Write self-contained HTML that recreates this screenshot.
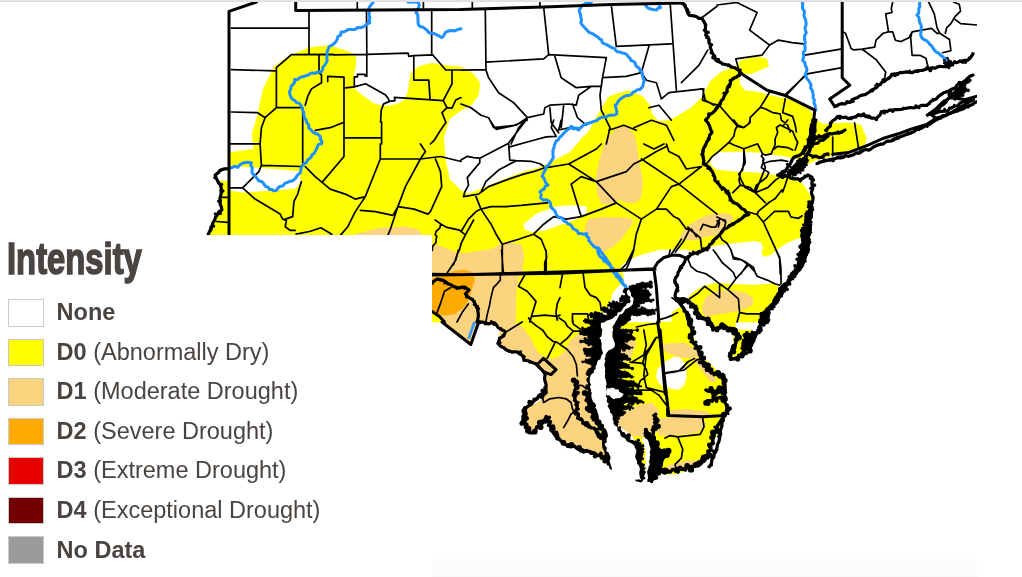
<!DOCTYPE html>
<html><head><meta charset="utf-8"><style>
html,body{margin:0;padding:0;background:#fff;width:1022px;height:577px;overflow:hidden;position:relative}
#map{position:absolute;left:0;top:0}
#topline{position:absolute;left:0;top:0;width:1022px;height:2px;background:linear-gradient(#e4e4e4 50%,#dcdcdc 50%)}
#panel{position:absolute;left:0;top:235px;width:432px;height:342px;background:#fff}
#bot{position:absolute;left:432px;top:559px;width:545px;height:18px;background:linear-gradient(#fcfcfc 88%,#f9f9f9 88%)}
.sw{position:absolute;left:8px;width:34px;height:25.5px;border:1px solid #c9c9c9}
.lt{position:absolute;left:56.6px;font-family:"Liberation Sans",sans-serif;font-size:23.5px;line-height:30px;color:#4a4441;white-space:nowrap;transform-origin:0 0;transform:scaleX(1.0)}
.lt b{font-weight:bold}
.lt span{font-weight:normal}
#title{position:absolute;left:7.4px;top:234.3px;font-family:"Liberation Sans",sans-serif;font-weight:bold;font-size:44px;line-height:50px;color:#4a4542;transform-origin:0 0;transform:scaleX(0.745);white-space:nowrap;-webkit-text-stroke:1.6px #4a4542}
</style></head><body>
<svg id="map" width="1022" height="577" viewBox="0 0 1022 577">
<defs><clipPath id="c"><rect x="0" y="2" width="977" height="575"/></clipPath></defs>
<g clip-path="url(#c)">
<path d="M560,322 L688,322 L688,394 L560,394 Z M613.7,330 L691.4,330 L696.4,345 L701.4,355 L711.4,365.1 L718.9,372.6 L723.9,375.1 L725.2,392.6 L726.5,412.7 L721.4,425.2 L716.4,435.2 L711.4,447.7 L703.9,457.7 L696.4,465.3 L686.4,470.3 L676.4,474 L641.3,474 L638.8,460.3 L636.3,447.7 L633.8,437.7 L626.3,430.2 L618.7,425.2 L613.7,412.7 L608.7,405.1 L611.2,392.6 L603.7,382.6 L606.2,367.6 L608.7,355 L616.2,342.5 Z M731.5,330 L752,330 L752,335 L744,350 L734,357.6 L736.5,345 Z M703.3,286.3 L715.8,283.2 L734.6,284.4 L753.4,285.1 L772.2,283.8 L778.5,286.3 L777.2,293.8 L772.2,302.6 L765.9,310.1 L759.7,313.9 L759.7,322 L707.1,322 L703.3,317.6 L697,312.6 L689.5,302.6 L688.3,297.6 L693.3,292.6 L700.8,287.6 Z M762.2,250 L773.4,250 L772.2,253.8 L765.9,256.3 L762.2,255 Z M672,305.1 L677,305.1 L682,307.6 L687,312.6 L690.8,322 L672,322 Z M672,316 L687,316 L690.8,323.5 L692,334.8 L693.3,343.6 L698.3,348.6 L700.8,356.1 L702.1,361.1 L707.1,366.1 L712.1,372.4 L719.6,376.1 L722.1,374.9 L723.4,381.1 L724.6,388 L672,388 Z M702.1,316 L734.6,316 L735.9,329.8 L728.4,328.5 L719.6,327.3 L713.3,328.5 L709.6,322.3 Z M734.6,336 L747.1,334.8 L747.1,347.3 L739.6,353.6 L733.4,356.1 L732.1,351.1 Z M229.5,152.7 L253.9,149 L252,133.9 L257.6,115.2 L263.2,88.9 L274.5,66.3 L291.4,55 L310.2,47.5 L329,45.6 L347.8,51.3 L355.5,56.3 L356.2,62.5 L353.7,75 L353,87.6 L361.8,95.1 L374.3,103.9 L385.6,106.4 L398.1,103.9 L404.4,100.1 L408.2,91.3 L409.4,81.3 L411.3,72.5 L419.4,66.3 L432,63.2 L440.7,65 L461,66.9 L473.5,73.9 L479.8,82.7 L478.5,95.2 L471,105.2 L461,110.2 L449.3,118.9 L443.6,137.7 L445.5,160.3 L449.3,179 L460.5,190.3 L468.1,194.1 L486.9,186.6 L505.6,179 L524.4,171.5 L539.5,167.8 L554.5,160.3 L569.5,152.7 L576.2,145 L583.7,136.3 L589,131.3 L597.6,115.2 L608.9,96.4 L627.6,90.7 L642.7,96.4 L650.2,105.8 L652,114 L658,121 L665,121 L672.7,118.9 L691.5,107.6 L702.8,96.4 L710.3,81.3 L721.6,71.9 L736.6,66.3 L740.4,60.7 L755.4,56.9 L766.7,58.8 L768.6,66.3 L755.4,71.9 L744.1,75.7 L740.4,81.3 L744.1,88.9 L759.2,92.6 L774.2,96.4 L793,100.1 L808,107.6 L815.5,118.9 L823.1,124.6 L845.6,122.7 L860.6,124.6 L866.3,137.7 L864,147.9 L848.3,152.6 L832.7,155.8 L815.5,160.3 L800.5,167.8 L793,173.4 L792.2,177.6 L798.4,180.1 L804.7,186.4 L809.7,195.1 L812.2,202 L810,238 L797.2,238.3 L794.7,239.6 L785.9,243.3 L777.1,249.6 L772.1,253.4 L764.6,256.5 L762.7,254.6 L763.3,247.1 L760.8,242.1 L754.6,240.8 L742,242.1 L729.5,243.3 L717,245.1 L711.7,246.3 L704.2,248.8 L699.2,250.1 L689.2,250.7 L670.4,250.1 L657.9,251.4 L645.4,253.9 L636.6,257.6 L626.6,261.4 L621.6,265.1 L623.9,275 L623.9,281.3 L617.6,287.6 L612.6,293.8 L611.4,300.1 L609.5,305.1 L596,322 L560,322 L560,360 L540,357 L522,345 L512,330 L505,322 L430,322 L430,577 L205,577 L207,236 L208.3,234.7 L213.3,223.1 L216.6,214.8 L221.6,209.8 L219.9,198.2 L221.6,188.2 L217.5,181 L229.5,181 Z" fill="#ffff00" stroke="#ffff00" stroke-width="0.6" stroke-linejoin="round"/>
<path d="M621.4,266.3 L627.6,261.3 L637.7,256.3 L650.2,252.5 L660.2,250 L688,250 L688,302.6 L680.2,306.4 L672.7,311.4 L664,315.1 L658.9,317.6 L657.7,322 L612.6,322 L609.5,305.1 L611.4,300.1 L612.6,293.8 L617.6,287.6 L623.9,281.3 L623.9,275 Z M657.7,369.6 L664,362.1 L672.7,358.3 L680.2,359.6 L685.2,365.8 L686.5,375.9 L684,384.6 L679,389.6 L670.2,388.4 L660.2,384.6 L656.4,377.1 Z M672,357.3 L679.5,357.3 L684.5,363.6 L683.3,368.6 L678.3,372.4 L672,373 Z M229.4,165.9 L253.9,167.8 L280.2,169.7 L299,171.5 L300.8,182.8 L295.2,188.4 L272.6,190.3 L242.6,192.2 L229.4,190.3 Z M523.6,224.2 L536.2,214.1 L556.2,206.6 L571.2,205.4 L586.2,206.6 L586.2,212.9 L576.2,219.2 L561.2,224.2 L543.7,230.4 L531.1,231.7 L524.9,229.2 Z M710.3,160.3 L717,152.5 L742,151.9 L760.8,153.2 L773.4,155 L785.9,156.9 L794.7,158.8 L804.7,161.3 L800,168 L787.1,176.3 L779.6,175.1 L773.4,174.5 L767.1,173.2 L754.6,172 L735.8,171.3 L717,169.5 L712,166 Z M740,75.7 L752,74 L763,78 L765,86 L758,91 L745,90 L740,84 Z" fill="#ffffff" stroke="#ffffff" stroke-width="0.6" stroke-linejoin="round"/>
<path d="M432,250 L448.3,250 L463.3,253.8 L475.8,255 L485.9,250 L522.2,250 L523.4,260 L521.5,268.8 L518.4,277.6 L517.2,285.1 L515.9,293.8 L515.9,306.4 L515.3,322 L444.5,322 L439.5,316.4 L432,311.4 Z M479.6,322 L478.3,323.3 L470.8,344.5 L442,322 Z M479.6,322 L514.7,322 L522.2,327 L529.7,337 L534.7,347 L539.7,354.6 L547.2,358.3 L554.7,359.6 L560,357.1 L560,394 L544.7,394 L546,384.6 L544.7,378.4 L544.7,372.1 L542.2,369.6 L538.5,367.1 L536,363.3 L529.7,362.1 L524.7,359.6 L522.2,354.6 L517.2,352.1 L509.7,350.8 L503.4,348.3 L498.4,343.3 L499.6,338.3 L503.4,335.8 L504.6,332 L498.4,327 L494.6,322.6 L488.4,323.3 Z M560,354.6 L566.3,353.3 L567.5,347 L570,340.8 L575,337 L581.3,335.8 L585,340.8 L588.8,353.3 L591.3,372.1 L591.3,394 L560,394 Z M615.1,330.8 L625.1,332 L635.1,337 L635.1,347 L630.1,359.6 L622.6,362.1 L615.1,359.6 Z M662.7,344.5 L672.7,343.3 L685.2,345.8 L688,347 L688,353.3 L679,352.1 L666.5,350.8 L664,349.6 Z M500,330 L520.3,330.3 L526.6,338.5 L532.6,346.5 L538.8,353.5 L543.8,357.3 L551.1,359.8 L556.1,358.8 L562.1,353.5 L567.1,348.5 L569.4,343.5 L573.4,338.5 L579.4,333.3 L581.4,331.3 L591.2,340 L596.2,355 L591.2,367.6 L588.7,380.1 L586.2,392.6 L588.7,405.1 L596.2,417.7 L601.2,425.2 L606.2,435.2 L603.7,447.7 L608.7,455.2 L611.2,467.8 L606.2,462.8 L598.7,457.7 L588.7,452.7 L578.7,447.7 L568.6,442.7 L558.6,437.7 L551.1,430.2 L546.1,420.2 L543.6,425.2 L533.6,432.7 L526.1,430.2 L523.6,417.7 L526.1,410.2 L533.6,405.1 L541.1,400.1 L543.6,392.6 L546.1,380.1 L553.6,370.1 L543.6,360.1 L538.6,362.6 L526.1,357.6 L511,350 L498.5,340 Z M613.7,412.7 L631.3,407.7 L651.3,402.6 L658.8,410.2 L656.3,425.2 L651.3,435.2 L641.3,437.7 L628.8,430.2 L618.7,422.7 Z M656.3,425.2 L671.3,417.7 L696.4,412.7 L703.9,415.2 L703.9,425.2 L696.4,432.7 L676.4,435.2 L658.8,435.2 Z M663.8,345 L683.9,342.5 L696.4,350 L693.9,357.6 L681.4,357.6 L666.3,352.5 Z M693.9,357.6 L708.9,367.6 L716.4,380.1 L711.4,382.6 L701.4,370.1 Z M615,415.5 L625,413 L631.3,408 L656.4,408 L657.6,415.5 L655.1,423 L650.1,430.5 L641.3,433 L635.1,436.8 L628.8,433 L620,426.8 Z M670.1,410.5 L687.7,409.3 L706.5,411.8 L710.2,414.3 L700.2,415.5 L670.1,414.3 Z M657.6,418 L675.1,419.3 L700.2,420.5 L706.5,423 L704,429.3 L687.7,428 L668.9,429.3 L655.1,431.8 Z M658.9,470.6 L668.9,465.6 L677.7,461.9 L687.7,460.6 L697.7,460.6 L698.9,464.4 L687.7,466.9 L675.1,469.4 L665.1,471.9 Z M600,424.3 L605,424.3 L607.5,439.3 L607.5,458.1 L600,460.6 Z M705.8,297.6 L715.8,291.3 L728.4,290.1 L744.6,292.6 L753.4,298.8 L752.2,305.1 L742.1,310.1 L728.4,312.6 L713.3,315.1 L704.6,316.4 L702.1,308.9 L703.3,302.6 Z M672,343.6 L684.5,347.3 L697,351.1 L698.3,356.1 L684.5,356.1 L672,353.6 Z M694.5,357.3 L700.8,357.3 L707.1,366.1 L709.6,372.4 L704.6,371.1 L697,363.6 Z M605.1,141.5 L616.4,128.3 L627.6,126.4 L635.2,137.7 L638.9,160.3 L642.7,182.8 L640.8,197.8 L636,202.5 L626.6,202.5 L620.3,200 L617.8,200 L614,203.8 L601.5,203.8 L597.6,194.1 L595.7,179 L599.5,160.3 Z M584.4,233.5 L586.3,224.1 L589,218.8 L601.5,217.5 L620.3,217.5 L631.6,218.8 L632.8,222.5 L626.6,231.3 L620.3,240.1 L611.5,247.6 L604,251.4 L597.8,250.1 L590.1,242.9 Z M679.2,238.8 L684.2,230.1 L689.2,225 L699.2,218.8 L709.2,215 L717,213.8 L724.5,213.3 L730.8,214.5 L733.3,218.3 L730.8,222 L727,224.5 L723.3,229.6 L719.5,232.1 L717,234.6 L709.2,236.3 L701.7,237.6 L695.5,240.1 L686.7,240.1 Z M355.3,234.2 L380.3,227.9 L405.4,226.7 L417.9,229.2 L422.9,235.4 L432,235.4 L432.1,245 L439.1,245.8 L447,249 L454.8,252.1 L462.6,253.7 L476,251.7 L491.1,249.2 L501.1,244.2 L511.1,242.9 L521.1,244.2 L523.6,254.2 L522.4,269.2 L522,275 L432,275 L355,275 Z" fill="#fcd37f" stroke="#fcd37f" stroke-width="0.6" stroke-linejoin="round"/>
<path d="M432,278.8 L444.5,275 L454.5,271.3 L464.6,270 L472.1,272.5 L474.6,280.1 L472.1,287.6 L468.3,300.1 L463.3,307.6 L454.5,313.9 L444.5,315.1 L437,313.9 L432,312.6 Z" fill="#ffaa00" stroke="#ffaa00" stroke-width="0.6" stroke-linejoin="round"/>
<path d="M473.3,322 L475.8,322 L469.6,338.9 L467.7,338.3 Z" fill="#3399ff" stroke="#3399ff" stroke-width="0.6" stroke-linejoin="round"/>
<path d="M950,95.2 L957.5,87.7 L965,85.2 L967.5,90.2 L962.5,95.2 L955,98.9 Z M787.7,172.6 L791.4,167.6 L797.7,161.3 L805.2,156.3 L809,160.1 L805.2,167.6 L800.2,172.6 L795.2,175.1 L790.2,175.1 Z M812.2,202 L810.9,214.5 L809.7,227 L808.4,239.6 L807.2,252.1 L804.7,260.9 L799.7,269.6 L795.9,274 L792.8,274 L795.3,268.4 L798.4,259.6 L800.3,252.1 L802.2,242.1 L800.9,235.8 L803.4,228.3 L805.3,222 L807.2,214.5 L809.1,207 L809.9,202 Z M796.6,268.8 L794.1,276.3 L787.9,286.3 L782.8,293.8 L777.8,302.6 L770.3,310.7 L762.8,322 L759.7,322 L762.2,313.9 L769.7,307.6 L774.7,300.1 L778.5,293.8 L782.2,287.6 L787.2,282.6 L792.2,275 Z M744.6,334.8 L752.2,332.3 L757.2,333.5 L759.7,327.3 L753.4,338.5 L749.7,347.3 L743.4,353.6 L737.1,357.3 L742.1,351.1 Z M944,58 L948,57 L950,62 L949,68 L945,68 Z M626.9,291 L628.1,293.3 L629.2,295.5 L630.2,297.8 L630.8,300.3 L629.7,302.3 L627.9,304.1 L626.1,305.9 L624.3,307.7 L622.6,309.4 L620.6,311.1 L618.6,312.7 L616.8,314.4 L615,316.2 L613.1,317.9 L610.9,319 L608.6,320.1 L606.3,321.2 L603.9,322 L601.5,322.8 L600.4,325.1 L600.8,327.3 L602.3,329.4 L602.2,331.7 L601.5,334.1 L600.8,336.6 L600.6,339 L601.1,341.5 L601.5,344 L602,346.5 L602.4,349 L602.8,351.5 L602.5,353.9 L601.3,356.2 L600.2,358.4 L599,360.7 L598,363 L597.1,365.4 L596.2,367.7 L595,370 L593.6,372.1 L592.2,374.2 L591,376.3 L590.6,378.9 L590.5,381.4 L590.5,383.9 L590.5,386.5 L590.5,389 L589.1,389.9 L589.8,386.8 L589.3,384.3 L587.4,381.9 L587.5,379.2 L588.8,376.5 L586.7,374 L587.3,371.3 L588.3,368.8 L592.6,367.3 L590.8,364.8 L582.9,361.9 L586,359.7 L592.7,357.7 L584.3,354.2 L584,351.7 L584.6,349.5 L595,348.3 L591.5,345.4 L581.2,341.5 L585.4,339.4 L592,337.7 L581.3,333.3 L581,330.6 L582.7,328.3 L594.5,327.9 L591.2,325.1 L583.3,320.9 L588.4,319.7 L596.3,319.7 L589,315 L591.2,313.5 L595.5,313 L607.2,315.6 L606.9,313.2 L601.4,309.2 L606.9,309.2 L614.3,309.4 L608.3,305.5 L609.7,303.2 L613.4,302.2 L623.2,302.9 L623.4,301.2 L619.1,298.4 L622.5,296.5 L626,294.8 L623.7,291.6 L625.2,289.3 Z M636.4,330 L625.5,332.9 L633,335.9 L634.4,338.9 L621.4,341.4 L626.8,344.4 L631.3,347.5 L621.3,349.4 L616,351.3 L626.7,355.9 L630.1,359.6 L619.3,360.2 L628.4,365 L631.6,368.6 L615.7,367.9 L624.5,372.6 L634.4,377 L620.9,376.4 L615.5,377.9 L635.7,382.6 L640.6,386.3 L624.7,387.3 L637.4,391.6 L642.8,394.4 L621.8,394.6 L632.9,398.5 L643.2,402.4 L624.1,402.8 L616.9,404.6 L631.1,406.6 L632.5,408 L621.1,410.8 L625.9,411.8 L625.4,413.6 L617.1,418.3 L618.6,418.8 L618.4,419.2 L616.8,424.8 L618,428.5 L619.4,428.3 L621.1,429.9 L623.2,434.1 L625.7,434.3 L628.1,435.9 L629.5,440.7 L632.3,441.1 L634.5,442.2 L635.2,446.6 L635.9,449.9 L637.4,451.2 L638,453.8 L637.1,457.8 L637.8,460.1 L639,462.7 L639.6,466 L640.4,468.6 L641,471.3 L640,474.6 L640.3,477.4 L642.7,480 L641,480 L639.8,477.5 L639,474.9 L639,472.1 L639,469.3 L639,466.5 L637.8,464.1 L636.4,461.7 L636,459 L636,456.2 L636,453.4 L635.6,450.7 L634.7,448.1 L633.5,445.7 L631.2,444.1 L628.8,442.6 L626.7,440.7 L624.8,438.8 L622.8,436.8 L620.8,434.8 L619.2,432.6 L617.9,430.2 L616.5,427.7 L615.2,425.3 L614.1,422.7 L613.2,420.1 L612.2,417.5 L611.1,414.9 L610.1,412.3 L609.1,409.7 L608.3,407 L607.9,404.3 L607.5,401.5 L607.1,398.8 L606.8,396 L606.5,393.2 L606.2,390.4 L605.9,387.7 L605.8,384.9 L605.7,382.1 L605.6,379.3 L605.4,376.5 L605.3,373.7 L605.1,371 L604.9,368.2 L604.7,365.4 L604.4,362.6 L604.7,359.9 L605.7,357.3 L606.7,354.7 L608.1,352.3 L610,350.4 L612,348.4 L614,346.4 L614,343.8 L613.5,341.1 L613,338.4 L612.9,335.6 L612.9,332.8 L612.9,330 Z M628.5,290 L630,287 L640,284 L650,283.5 L651,286.5 L641,289 L645,290 L649.5,292.3 L651.8,294.7 L647.9,297.8 L652.6,300.2 L651.8,302.5 L646.4,301 L640.1,301.7 L638.5,305.7 L633.8,308 L637,309.6 L644.8,308.8 L655,310.4 L654.2,313.5 L644.8,314.3 L637,315 L631.5,315 L629.6,319.4 L622.5,323.8 L619,330 L617,334 L612.9,331 L613,327 L615.5,322 L618.5,317 L623,312 L627.5,308 L634,302 L633,299 Z M633,442 L638,441 L642,446 L643,455 L641,462 L636,462 L633,455 Z M637,467 L643,466 L646,472 L645,479 L639,480 L637,474 Z M645.8,430 L651.6,438.8 L654.6,444.7 L659,450.5 L666.3,452 L663.4,459.4 L659,466.7 L654.6,474 L651.6,481.4 L648,481 L648.5,472 L649.5,464 L651,457 L651,450 L650,444 L647,439 L644,436 Z" fill="#000000" stroke="#000000" stroke-width="0.6" stroke-linejoin="round"/>
<path d="M357.3,2 L357.3,8.8 M423.4,2 L423.4,8 M231.3,28.1 L309,28.1 M309,10.5 L309,53.9 M291.4,54.6 L276.4,67.6 L276.4,107.7 M231.3,69.6 L275.1,70.9 M319,54.6 L319,72.6 L321.5,75.1 L321.5,82.7 L311.5,88.9 L307.7,96.4 L305.2,105.2 M327.7,81.4 L327.7,76.4 L344,77.2 L344,144 M276.4,107.7 L301.4,107.7 M231.3,112 L257.6,112.7 L265.1,117.7 L261.4,127.7 L260.1,144 M276.4,107.7 L265.1,117.7 M302.7,107.7 L302.7,144 M315.2,130.3 L330.2,127.7 L342.8,122.7 M344,137.8 L380.3,137.8 M381.6,122.2 L381.6,144 M431.7,10 L431.7,54.6 M446,122.2 L440.5,130.3 L434.2,140.3 L430.4,144 M291.4,54.6 L333.3,54.4 M333,54.8 L366.8,54.4 L408.1,53.1 L408.8,56.3 L413.8,55.6 L432.6,54.8 M432.6,54.8 L445.7,70 L461,70 M366.8,50 L366.8,76.3 L364.9,75.7 L364.9,74.4 L357.4,74.4 L357.4,76.9 L354.3,76.9 L354.3,86.9 M345.5,87.8 L354.3,86.9 L365.6,83.8 L385.6,95.1 L388.1,98.2 L389.4,101.4 L383.7,103.9 L381.2,110.1 L380.6,122 M389.4,101.4 L395,100.7 L394.4,97.3 L443.2,100.7 M413.8,55.6 L413.8,80.1 L428.8,80.1 L430.1,100.1 M452,70.7 L452,83.8 L443.2,100.7 L447,107.6 L442,112.6 L445.7,122 M447,107.6 L452,108.2 L455.7,100.1 L461,97.6 M472.3,2.5 L472.3,9 M701.5,18 L717,6.3 M539.9,2 L539.9,7.5 M485.3,9.5 L486,69.6 M461,70.1 L486,69.6 M486,62.1 L543.7,58.9 L548.7,54.6 L606.3,57.6 M543.7,7.5 L548.7,54.6 M611.3,5 L616.3,46.3 L671.4,43.8 M670.2,3.8 L676.4,90.2 M606.3,57.6 L602.5,77.7 L600,95.2 L601.3,110.2 L610,127.7 M554.9,56.4 L561.2,77.7 L576.2,87.7 L591.3,86.4 L600,86.4 M602.5,77.7 L626.3,76.4 L641.4,72.6 L648.9,46.3 M486,70.1 L488.6,77.7 L498.6,92.7 L513.6,102.7 L527.4,117.7 M461,104 L471,107.7 L481,115.2 L488.6,117.7 L493.6,127.7 L516.1,125.2 L527.4,117.7 L543.7,114 L544.9,107.7 L549.9,105.2 L568.7,104 L576.2,105.2 M576.2,105.2 L578.7,95.2 L591.3,86.4 M549.9,107.7 L551.2,122.7 L558.7,132.8 M563.7,105.2 L561.2,127.7 M572.5,104 L577.5,117.7 L586.2,125.2 M527.4,117.7 L518.6,127.7 L511.1,144 M641.4,72.6 L646.4,80.2 L656.4,82.7 L661.4,98.9 L668.9,92.7 L702.7,88.9 M702.7,88.9 L705.2,100.2 L714,105.2 M681.4,82.7 L699,65.1 L707.7,50.1 M608.8,130.3 L623.8,125.2 L636.3,130.3 M610,127.7 L606.3,144 M633.8,127.7 L651.4,120.2 L666.4,125.2 L673.9,140.3 M648.9,107.7 L658.9,105.2 L671.4,120.2 M717,5 L737,2.5 L757.1,12.5 L749.6,30.1 L769.6,45.1 L778.4,40.1 L792.1,42.6 L803.4,43.8 M769.6,45.1 L762.1,55.1 L735.8,58.9 L739.5,72.6 M804.7,55.1 L842.2,48.8 M807.2,73.9 L842.2,67.6 M804.7,76.4 L784.6,95.2 M260.1,144 L261.4,165.3 L301.4,166.5 M230,187.8 L242.6,187.8 L258.9,171.6 L261.4,165.3 M242.6,187.8 L255.1,199.1 L267.6,206.6 L280.1,214.1 L282.7,219.1 L286.4,220.4 L285.2,226.7 L290.2,230.4 L295.2,230.4 M302.7,144 L302.7,162.8 M301.4,181.6 L297.7,194.1 L293.9,201.6 L292.7,216.6 L285.2,219.1 M305.2,166.5 L315.2,176.6 L322.7,182.8 L330.2,189.1 L345.3,194.1 L355.3,199.1 L365.3,196.6 M322.7,181.6 L344,156.5 L344,144 M365.3,196.6 L355.3,211.6 L347.8,226.7 L340.3,235.4 M365.3,196.6 L380.3,159 L380.3,144 M380.3,159 L420.4,159 L440.5,156.5 L461,161.5 M420.4,159 L405.4,186.6 L397.9,206.6 L390.4,229.2 L387.9,235.4 M360.3,210.4 L375.3,211.6 L392.9,215.4 L397.9,206.6 M420.4,144 L425.4,151.5 L420.4,159 M435.5,159 L440.5,171.6 L441.7,186.6 L430.4,211.6 L427.9,214.1 L414.2,209.1 L397.9,206.6 M435.2,220 L440.7,223.9 L447,227.4 L459.5,230.2 L465.4,234.9 L473.6,220 M440.7,223.9 L439.9,227.8 L436,231.7 L435.2,234.9 L436.8,236.4 L436,239.6 L436,242.7 L432.9,245.8 L432.1,250.5 M465.4,234.9 L461.1,243.5 L459.5,249.7 L457.1,254.4 L454,263.8 L453.2,265 M463.5,196.6 L478.5,194.1 L488.6,186.6 L508.6,179.1 L523.6,174.1 L533.6,171.6 L544.9,167.8 L568.7,164 L596.3,149 L601.3,144 M476,196.6 L481,209.1 L486,216.6 L491.1,224.2 L496.1,234.2 L502.3,244.2 L502.3,274.3 M481,209.1 L491.1,206.6 L506.1,206.6 L521.1,205.4 L533.6,204.1 L547.4,202.9 M461,231.7 L468.5,219.1 L476,211.6 L481,209.1 M502.3,244.2 L518.6,239.2 L533.6,234.2 L541.2,239.2 L546.2,251.7 L546.2,274.3 M533.6,234.2 L543.7,224.2 L553.7,216.6 L566.2,219.1 L581.2,216.6 L601.3,209.1 L616.3,202.9 L641.4,219.1 L636.3,234.2 L633.8,249.2 L626.3,264.2 L621.3,269.2 M571.2,184.1 L581.2,216.6 M571.2,184.1 L581.2,176.6 L596.3,181.6 L616.3,202.9 M568.7,164 L596.3,181.6 M596.3,181.6 L611.3,176.6 L626.3,171.6 L633.8,164 L643.9,159 L656.4,151.5 L666.4,146.5 M641.4,159 L678.9,184.1 L717,214.1 M641.4,219.1 L656.4,209.1 L671.4,186.6 L678.9,184.1 M656.4,209.1 L666.4,209.1 L673.9,216.6 L678.9,219.1 L686.4,229.2 L691.5,229.2 L696.5,236.7 M678.9,184.1 L701.5,166.5 M643.9,144 L653.9,149 L663.9,144 M666.4,144 L668.9,151.5 L678.9,156.5 L686.4,169 L701.5,166.5 M681.4,239.2 L676.4,246.7 L671.4,254.2 M461,160.1 L467.3,156.3 L473.5,157.6 L479.8,158.2 L508.6,143.2 L526.1,120 M479.8,158.2 L479.8,162.6 L473.5,170.1 L467.3,177.6 L468.5,185.1 L464.8,192 L463.5,196.4 M508.6,143.2 L509.8,160.1 L516.1,160.7 L531.1,161.3 L539.9,163.8 L543.7,166.3 M509.8,146.9 L529.9,141.3 L546.2,136.9 L556.2,136.3 M516.1,160.7 L498.6,170.1 L486,181.4 L481,192 M556.2,136.3 L551.2,127.5 L553.7,120 M558.7,130 L561.2,120 M558.7,130 L570,127.5 M489.8,120 L496.1,129.4 L513.6,125.6 L527.4,120 M720,106.3 L737.6,126.4 L743.8,127.6 L750.1,122.6 L750.1,117.6 L760.1,107.6 L770.1,91.3 M761.4,107.6 L765.1,108.8 L772.6,112.6 L780.2,113.9 L781.4,120.1 L787.7,125.1 L790.2,132 M785.2,98.8 L782.7,112.6 L792.7,116.4 L795.2,125.1 L796.4,132 M785.2,96.3 L804,76.3 L807.7,73.8 L828,70 M700,88.8 L703.8,88.8 L702.5,100.1 L712.5,103.8 L718.8,105.1 M733.8,120 L737.6,125 L743.8,127.5 L748.8,123.8 L750.1,120 M737.6,125 L735.1,130 L733.8,136.3 L728.8,142.5 L718.8,151.3 L712.5,156.3 L707.5,162.6 L703.8,165.1 M728.8,142.5 L733.8,145 L743.8,148.8 L757.6,143.8 L762.6,153.8 L765.1,155.1 L771.4,153.8 L772.6,150.1 L777.7,146.3 L787.7,147.6 L792.7,150.1 M743.8,148.8 L743.8,161.3 L742.6,170.1 L738.8,173.9 L741.3,180.1 L745.1,187.6 L753.9,192 M772.6,150.1 L775.1,145 L775.1,138.8 L777.7,132.5 L776.4,127.5 L780.2,125 L782.7,126.3 L787.7,120 M782.7,126.3 L792.7,131.3 L795.2,137.5 L797.7,142.5 L795.2,150.1 M762.6,163.8 L770.1,161.3 L781.4,160.1 L787.7,161.3 M762.6,163.8 L761.4,167.6 L765.1,170.1 L768.9,172.6 L766.4,177.6 L756.4,185.1 L753.9,192 M762.6,153.8 L761.4,156.3 L763.9,158.8 L762.6,163.8 M787.7,177.6 L785.2,185.1 L782.7,192 M748.3,212 L757.1,214.5 L758.3,211.4 L769.6,202 M757.1,214.5 L763.3,222 L769.6,235.8 L775.9,249.6 L779.6,258.4 L780.2,274 M763.3,222 L774.6,211.4 L788.4,211.4 L790.9,217 L798.4,218.3 L802.2,215.8 M719.5,234.6 L722,239.6 L727,243.3 L730.8,249.6 L733.3,257.1 L739.5,259 L745.8,262.1 L753.3,267.1 L755.8,274 M747.1,264.6 L740.8,274 M717,217 L722,219.5 L725.8,222 L724.5,227 L720.8,232.1 M717,220.8 L719.5,222 L718.3,227 M854.6,122.9 L858.5,147.9 M832.7,137 L832.7,155.8 M458.3,250 L455.8,260 L447,273.2 M501.5,250 L503.4,273.2 M546,250 L546.6,257.5 L544.7,262.5 L544.7,272.5 M500.3,275 L500.3,280.1 L497.1,283.8 L493.4,287.6 L490.9,297.6 L489.6,305.1 L487.1,315.1 L485.9,322 M524.7,275 L519.7,283.8 L518.4,286.3 L527.2,291.3 L536,301.4 L533.4,310.1 L529.7,322 M532.2,316.4 L544.7,315.1 L557.2,316.4 L560,315.1 M560,297.6 L557.2,303.9 L556,312.6 L557.2,320.1 M444.5,291.3 L440.8,302.6 L437,312.6 M444.5,291.3 L450.8,287.6 M468.3,303.9 L462.1,312.6 L457,322 M507.1,331.4 L522.2,322 M554.7,343.3 L547.2,358.3 M562.5,273.8 L560,287.6 M583.2,273.8 L585,287.6 L590.1,295.1 L596.3,297.6 L600.1,302.6 L601.3,310.1 M633.9,250 L631.4,257.5 L627.6,266.3 L625.1,270.7 M670.2,250 L669,255 M572.5,313.9 L587.6,313.9 L588.8,322 M572.5,313.9 L572.5,322 M657.7,320.1 L666.5,317.6 L672.7,315.1 L677.7,312.6 M630.1,362.1 L642.7,363.3 L646.4,369.6 L647.7,374.6 L640.2,380.9 L637.7,387.1 L640.2,394 M642.7,363.3 L645.2,353.3 L650.2,347 L655.2,338.3 L658.9,337 M636.4,327 L647.7,324.5 L657.7,323.3 M665.2,373.4 L679,370.8 L684,365.8 L688,362.1 M643.8,330 L646.3,345 L643.8,355 L631.3,362.6 M656.3,337.5 L646.3,355 L643.8,375.1 L646.3,387.6 L656.3,390.1 L666.3,392.6 M666.3,372.6 L683.9,370.1 L696.4,360.1 L703.9,357.6 M636.3,390.1 L651.3,390.1 L658.8,395.1 L666.3,405.1 M542.3,396.3 L543.6,402.5 L549.9,398.8 L558.6,397.5 L566.1,398.8 L571.1,402.5 L572.4,408.8 L574.9,412.6 M574.9,412.6 L571.1,413.8 L567.4,421.3 L563.6,427.6 M576.2,385 L582.4,385.6 L586.2,388.8 L588.7,388.8 M702.7,418 L704,426.8 L700.2,434.3 L677.7,436.8 L670.1,435.6 L665.1,438.1 M677.7,436.8 L682.7,449.3 L681.4,458.1 L675.1,464.4 L676.4,470.6 M688.3,260 L690.8,266.3 L697,271.3 L705.8,273.8 L713.3,278.8 L719.6,283.8 L728.4,290.1 L738.4,298.8 L739.6,312.6 L737.1,322 M713.3,250 L717.1,255 L722.1,262.5 L729.6,268.8 L733.4,272.5 L735.9,278.8 L728.4,288.8 M730.9,250 L733.4,258.8 L742.1,260 L748.4,265 L754.7,271.3 L757.2,276.3 L767.2,280.1 L774.7,283.8 L779.7,285.1 M748.4,265 L735.9,278.8 M776,250 L779.7,257.5 L781,268.8 L781,283.8 M719.6,285.1 L719.6,297.6 L713.3,292.6 L704.6,286.3 L697,293.8 L689.5,298.8 M739.6,312.6 L747.1,313.9 L759.7,313.9 M672,297.6 L678.3,302.6 L684.5,310.1 L688.3,320.1 M694.5,358.6 L687,362.3 L683.3,367.4 L678.3,371.1 L672,372.4 M528.6,318 L530.6,321.1 L536.7,326.1 L542.8,330.2 L546.9,336.3 L553,341.4 L557.1,342.4 L567.2,349.5 L573.3,356.7 L576.4,364.8 L577.4,376 M559.1,318 L565.2,322.1 L567.2,326.1 L573.3,331.2 L580.5,331.2 M573.3,331.2 L567.2,338.4 L561.1,343.4 M572.3,318 L573.3,324.1 L580.5,329.2 M229.6,143.8 L259.8,143.8 M744,150 L745.3,162.6 L740.3,172.6 L739,180.1 L740.3,185.1 L735.3,190.1 L732.8,192.6 M740.3,185.1 L750.3,187.6 L755.3,192.6 L760.3,197.6 L765.3,202.6 M755.3,192.6 L767.8,187.6 L775.4,180.1 L782.9,175.1 L790.4,175.1 M762.8,160.1 L765.3,167.6 L760.3,180.1 L755.3,192.6 M770,201.9 L775,198.8 L781.9,190 M366.5,10.5 L366.8,50 M221.6,197.3 L227.4,197.3 M216.6,221.5 L227.4,222.3 M892.7,2.1 L891.3,8.3 L892,12.5 L885.7,13.9 L888.5,31.9 L883,33.3 L876,40.2 L874.7,47.1 L862.2,49.2 L853.9,49.9 L851.1,48.5 L845.5,33.3 L843,31.9 M888.5,31.9 L892.7,31.9 L895.4,40.2 L901,41.6 L909.3,37.4 L912.1,31.9 L931.5,28.4 L937,33.3 L939.8,33.3 L949.5,39.5 L950.9,50.6 L942.6,52.7 M912.1,31.9 L910.7,37.4 L912.1,55.4 L920.4,55.4 L925.9,58.2 L928.7,69.3 M862.2,49.2 L870.5,55.4 L876,59.6 L885.7,72.1 L884.4,80 M928.7,2.1 L934.3,13.9 L937,27.7 L939.8,33.3 M953.7,2.1 L959.2,4.2 L960.6,11.1 L955,16.6 L950.9,23.6 L946.7,27.7 L945.3,33.3 M955,19.4 L960.6,23.6 L977,25 M296,234 L300,233.4 L309.5,231.5 L321,227.7 L330.5,233.4 L333,236 M687.9,227.1 L692,231.3 L697.6,235.4 L700.4,238.2 L701.8,249.3 M700.4,229.9 L703.1,224.3 L711.5,227.1 L715.6,227.1 L719.8,218.8 L725.3,220.2 M675.4,252 L683.7,241 L689.3,229.9" fill="none" stroke="#000" stroke-width="1.7" stroke-linejoin="round" stroke-linecap="round"/>
<path d="M373.3,2 L371.4,4.4 L369.7,6.6 L368.8,8.6 L369.9,10.9 L369,13.2 L369.3,15.6 L369.9,17.9 L369.1,20.2 L369.8,22.9 L367,23.9 L365.1,25.7 L362.9,27 L360.3,27.7 L357.7,27.5 L355.4,29.3 L352.9,29.6 L350.2,29.4 L347.8,29.6 L345.9,31 L343.8,32 L341,31.9 L340.6,35.2 L337.9,36.6 L337.2,39.3 L335.8,41.7 L333.9,43.7 L331.7,45.3 L329.2,46.5 L328.2,49.1 L327.3,51 L327,53.3 L327.2,55.6 L326.7,57.8 L327.3,60.3 L326.2,62.7 L325,64.8 L323.2,66.7 L322.6,69.2 L321.7,71.7 L319.2,71.7 L317,72.5 L314.8,73.3 L312.3,72.9 L310.1,73.6 L308.2,75.2 L305.9,75.6 L303.8,76.6 L301.4,76.9 L299.3,78 L297.5,79.7 L294.6,79.6 L294.5,82.7 L292.8,84.6 L291,86.5 L290.8,89.1 L289.6,91.4 L289.7,93.7 L290.6,96.6 L292.4,99.2 L294.8,100.6 L296.7,102.6 L299.4,103.4 L301.1,105.4 L302,107.7 L302.8,110.2 L303.8,112.7 L303.9,115.4 L304.4,118 L306.2,120.2 L306.8,122.8 L308.8,124.9 L308.7,127.9 L310.9,129.6 L312.6,131.8 L314.8,133.3 L317.9,134.3 L320.4,136.4 L320.3,139.1 L321.9,141.4 L321.5,144 M407.9,2 L410.2,2.1 L412.5,1.8 L414.7,1.9 L417,2 L418.8,3.3 L419.2,5.5 L418.4,7.9 L417.5,10.2 L416,12.5 L417.9,14.9 L417.8,17.5 L418.1,20 L418,22.6 L418.7,25.3 L420.7,26.8 L423.2,27.2 L424.9,28.7 L426.8,29.9 L428.1,31.9 L430,33.3 L432.9,33 L435.2,34.1 L437.4,35.2 L439.6,36.2 L441.7,37.6 L443.4,36.1 L444.5,34.1 L445.8,32.2 L447.9,31.2 L450.1,30.7 L452.4,30.6 L454.7,30.9 L456.7,30 L458.8,29.2 L461,28.8 M591.3,2.5 L588.7,2.7 L586.2,3.1 L584.1,4.5 L581.8,5.5 L580.8,7.7 L579.3,9.9 L579.7,12.5 L580.6,15 L580.8,17.5 L581.5,19.9 L580.8,22.5 L581.9,24.7 L583.6,26.4 L585.3,28.4 L587.3,30.3 L588.9,32.4 L591.3,33.1 L593.5,34.3 L595.6,35.8 L597.9,37 L599.4,38.9 L601.6,39.9 L602.3,42.6 L604.4,43.8 L606.7,44.6 L608.5,45.7 L610.4,46.9 L612.4,47.9 L614.6,48.5 L616,50.7 L617.9,51.9 L620.3,52 L622.3,53.1 L624.6,53.4 L626.7,54.5 L628.2,56.6 L629.9,58.1 L630.9,60.5 L633.4,61.3 L635.2,62.8 L635.7,65.6 L637.5,67 L639.4,68.5 L640.1,70.8 L642.1,72.2 L642.6,75.2 L643.1,78 L644.4,80.2 L643.5,82.5 L643,85.4 L641.6,87.9 L639.7,89.5 L637.1,89.8 L635.3,91.4 L633.1,92.2 L631.4,94.2 L629.5,95.3 L627,95.4 L624.9,96.1 L623,97.3 L621,98.5 L619.3,100.1 L617.9,101.7 L617,104 L615.1,105.2 L615.7,107.4 L616.5,109.5 L616.8,111.7 L616.6,114.2 L613.9,115.2 L611.2,115.1 L608.6,115.4 L606.3,117.1 L603.6,116.9 L601.4,117.6 L599.2,118.4 L597.4,120.1 L595.3,121 L593.2,121.7 L591,122.5 L588.9,123.2 L586.6,123.8 L584.3,124.6 L582.4,126 L580.7,127.8 L578.7,128.7 L576.3,128 L573.6,128.9 L571.2,127.7 M645.1,4.5 L647.4,7.7 L649.6,8.8 L651.9,9.2 L654.1,9.8 L656.4,10 L657.9,8.3 L660.6,7.6 L658.9,4.5 M802.2,2 L802.9,4.1 L802.5,6.4 L802.6,8.7 L804.1,10.6 L804.5,12.8 L803.9,15.1 L804.5,17.5 L805.7,20 L806,22.5 L806.1,25 L805,27.6 L805.3,30.1 L806.3,32.7 L804.9,35.1 L804.4,37.5 L804.8,40.1 L805.2,42.6 L804.6,45.1 L805.1,47.7 L805.1,50.2 L803.2,52.5 L803.6,55.1 L803.6,57.6 L802.6,60.3 L804.8,62.5 L805.3,65.4 L806.6,67.7 L806.9,70.3 L806,72.7 L805.1,75.1 L806.3,76.7 L807.1,79 L808.8,80.6 L809.8,82.6 L811.1,85 L810.5,87.9 L812.2,90.1 L812.7,92.7 L813.3,95.2 L813.1,97.8 L814.4,100.2 L813.9,102.8 L815.1,105.2 L815.4,107.7 L815.9,110.2 M919.9,2 L919.4,4.2 L919.9,6.5 L918.8,8.5 L918.8,10.8 L918.7,13 L916.9,15.1 L918.9,17.3 L919.3,20 L919.8,22.6 L921,25 L921.4,27.5 L921.1,30 L921,32.6 L920.6,35.1 L921.7,37.3 L923.2,39.2 L925.8,40.3 L927.9,41.9 L929.6,44.2 L931.6,45.9 L933.1,48.1 L934.6,50.4 L936.3,52.2 L938.7,53.2 L940.4,55 L942.4,56.4 L944.3,58.3 L946.2,60.1 M319,144 L317.4,146.3 L316.5,149 L315.1,151.5 L314,153.4 L312,154.8 L311.2,156.9 L309.7,158.5 L307.6,160 L306.3,162.7 L303.8,163.9 L301.9,166.2 L300.9,168.8 L300.8,172 L299.1,173.9 L297.1,175.4 L296.1,177.7 L294.2,179.5 L292.2,181 L289.6,181.3 L287.5,182.4 L284.8,183.4 L282.9,185.9 L279.9,186.3 L277.9,188 L276.4,190.4 L273.8,190.9 L272.2,189.6 L269.4,189.5 L268.1,187.1 L265.8,186.5 L264.3,184.9 L263.2,182.8 L261.3,181.5 L258.9,181 L257.5,179.2 L256,177 L254,175.1 L252.1,173 L252,170.3 L252.3,167.7 L250.8,165.4 L251.4,162.7 L248.2,162.3 L245.2,162.4 L243.4,163 L241.2,163.8 L239.5,165.2 L237.9,167.2 L234.3,166.3 L231.3,167.8 M541.2,194.1 L540.7,198.1 L543.3,199.9 L546.5,199.7 L549,201.3 L550.7,203.7 L550.7,206.8 L552.7,208.9 L554.5,210.5 L555.7,212.8 L556.6,215.2 L558.3,217 L560.8,217.5 L562.8,218.6 L563.9,221 L566.1,221.8 L567.6,223.6 L570.1,224.5 L571.7,226.1 L572.9,228.5 L575,229.7 L577.3,230.8 L578.4,233.6 L581.2,233.6 L583.6,234.3 L586.6,233.6 L586.6,236.5 L588.9,237.8 L588.7,240.5 L590.4,242.2 L591.5,244 L593.1,245.5 L594.6,247.3 L597.2,247.6 L599.3,248.7 L600,251.1 L601.7,252.7 L603.1,254.4 L604.3,256.3 L605.9,258.2 L607.2,260.4 L608.6,262.5 L610.1,264.5 L610.9,267 L613.1,268.5 L614.3,270.7 L616.3,272.4 L617.5,274.6 L619.5,276.3 L620.4,278.4 L622,280 L622.2,282.6 L623.7,284.3 L625.5,285.8 L626.3,288 M539.9,192 L541.7,190.2 L544.2,189.1 L545,186.3 L548,185.2 L546,183 L544.9,180.8 L544.2,178.3 L542.2,176.4 L543.2,173.9 L544.4,171.4 L545.7,169.2 L546.1,166.8 L548.3,165.4 L549.6,163.4 L551,161.5 L552.1,159.4 L553.4,157.5 L552.9,155.1 L553,152.6 L552.9,150.1 L554.1,147.7 L554.3,145.4 L555.2,143.3 L556,141.2 L558.3,139.8 L559.2,137.9 L561.4,135.9 L563.5,133.5 L565.3,131.7 L567.2,130.1 L569.3,128.6 L571.1,126.3 L573.7,127.8 L576.4,128.6 L578.7,130 M597.6,250 L598.1,252.9 L599.3,255.4 L601.2,257.5 L603.2,258.7 L603.9,261.2 L606.3,262 L607.8,263.6 L610,265.3 L611.1,267.8 L612.6,270 L613.8,272.5 L615.6,274.7 L616.8,277.1 L619.1,278.6 L620.4,281 L622.2,282.7 L623.4,284.9 L625.5,286.4 L626.4,288.8" fill="none" stroke="#1e90ff" stroke-width="3.0" stroke-linejoin="round" stroke-linecap="round"/>
<path d="M229,144 L229,11.3 L256.4,2 M295.7,2 L295.7,10.5 L461,9.5 M461,9.5 L543.7,7 L611.3,4.5 L682.7,3 M739.5,72.6 L767.1,90.2 L784.6,95.2 L814.7,110.2 L813.4,125.2 L810.9,144 M842.2,2 L842.2,77.7 L849.8,85.2 L829.7,98.9 L834.7,106.5 M229,144 L229,235.4 M431.7,274.3 L461,274.8 M461,274.8 L655.1,269.2 M832.7,154.2 L848.3,152.6 L868.7,144.8 L882.8,138.5 L898.4,133.8 L910.9,129.1 L926.6,124.4 L936,118.2 L929.7,113.5 L936,108.8 L942.2,102.5 L950.1,97.8 L965.7,99.4 L977,96.3 M936,118.2 L946.9,115 L973.6,99.4 M432,275 L560,273.2 M432,311.4 L439.5,316.4 L444.5,322 M442,322 L470.8,344.5 L478.3,323.3 L479.6,322 M538.5,363.3 L543.5,358.3 L556,369.6 L551,374.6 L544.7,372.1 M560,273.2 L653.9,268.8 M653.9,268.8 L657.7,262.5 L664,257.5 L672.7,255 L680.2,255.6 L688,258.8 M653.9,268.8 L656.4,287.6 L658.9,322 M657.7,322 L660.2,340.8 L662.7,365.8 L665.2,394 M660.1,330 L663.8,372.6 L668.8,415.2 M667.6,408 L667.6,415.5 L702.7,416.8 L725.2,415.5" fill="none" stroke="#000" stroke-width="3.0" stroke-linejoin="round" stroke-linecap="round"/>
<path d="M834.7,106.5 L837.1,105.4 L839.5,104.3 L842.1,103.6 L844.9,104 L847.2,102.4 L850.1,102.1 L852.1,99.8 L854.6,98.6 L857.3,97.7 L859.6,96 L862.2,95 L865.1,94.6 L867.6,93.2 L869.7,91.7 L871.7,90 L874.1,89 L876.3,87.6 L878.1,85.6 L880.4,84.4 L881.9,82.1 L884.5,81.5 L886.3,79.6 L888.5,78.5 L890.4,76.8 L892.2,74.8 L894.7,73.8 L897.5,74.5 L899.7,72.6 L902.4,72.6 L904.9,72.2 L907.4,71.9 L909.9,72.4 L912.5,72.6 L914.9,71.2 L917.4,71.6 L919.8,70.5 L922.4,70.4 L924.9,69.6 L927.3,68.7 L929.8,68.2 L932.3,67.7 L935,68.2 L937.4,67.1 L939.9,66.2 L942.6,66.7 L945.1,66.4 L947.5,65 L949.9,63.9 L952.4,63.4 L954.8,62.6 L957.4,62.4 L959.8,61.3 L962.4,60.9 L964.9,60.3 L967.6,60.2 L969.8,58.4 L971.5,56.2 L973,53.9 M927.4,115.2 L929.7,113.6 L932.7,113.3 L935,111.7 L937.2,109.9 L939,107.8 L941.2,105.9 L943.6,104.4 L945.7,102.4 L947.1,99.8 L949,97.7 L951.5,96.2 L953.6,94.3 L955.4,92.1 L957.2,89.9 L959.5,88.4 L960.7,85.9 L962.9,84.4 L965,82.6 L967.8,82.1 L970,80.2 M932.4,114 L934.9,113.4 L937.3,112.2 L939.8,111.7 L942.4,111.3 L945,111.1 L947.8,110.9 L949.7,108.4 L952.4,107.5 L954.8,106 L957.8,105.9 L959.7,103.4 L962.2,102 L964.9,101.1 L967.7,100.6 L970.6,100.4 L973,98.9 M950,91.4 L952.1,88.9 L955.5,87.8 L957.2,84.8 L959.9,83.3 L962.8,82.3 L965.3,80.6 L967.6,78.4 L969.9,76.2 L973,75.1 M804.7,158.8 L806.3,156.5 L807.7,154 L808.8,151.5 L809.9,148.9 L810.7,146.2 L811.9,143.7 L813.3,141.2 L815,139.1 L817,137.4 L819.6,136.8 L822.3,136.9 L824.6,135.4 L827,134.3 L829.9,133.6 L832.9,133.8 L835.6,132.9 L838.7,133.2 L842,131.8 L845,130 M812.7,120 L812.7,122.6 L812.1,125.1 L811,127.5 L810.5,130 L810.7,132.6 L810.5,135.2 L809.5,137.6 L808.4,139.9 L808.7,142.6 L808,145.1 L806.4,147.8 L804,149.8 L802.6,152.5 L800.8,154.5 L798.6,155.7 L796.2,156.5 L793.8,157.5 L791.9,160 L790.8,162.9 L789.4,165.3 L787.4,167.4 L785.3,171.5 L782.9,173 L780.3,174.2 L777.7,175.1 M777.7,175.1 L780.3,175 L782.6,176.4 L785.3,176 L788.3,176.8 L791.3,178.1 L794.2,178.9 L797.4,178.8 L800.1,179.7 L802.6,178.3 L805.2,176.8 L807.7,174.9 L812,177.2 L812.3,180 L811.9,182.7 L812.1,185.1 L812.8,188.7 L811.5,192 M815.9,120 L815.2,122.6 L814.7,125.3 L814.8,128.1 L815.1,130.8 L814,133.4 L813.9,136.1 L812.6,138.6 L813.1,141.5 L811.3,143.6 L810.3,146.1 L810,148.7 L809.6,151.3 M810.2,155.1 L813,156.4 L816.2,156.2 L819,157.6 L822.3,157 L824.8,154.6 L828,153.8 M809,145 L811.9,144.3 L814.8,143.5 L817.9,143.1 L819.9,140.4 L823.3,140.1 L825.5,138 L828,136.3 M812.2,202 L811.7,204.5 L811.2,206.9 L811.9,209.6 L811.5,212 L811.2,214.5 L811.4,217.1 L809.8,219.4 L809.7,222 L809.6,224.5 L810.5,227.1 L808.9,229.5 L808.8,232 L809,234.6 L808.3,237 L808.5,239.6 L808.6,242.1 L808.5,244.7 L808.1,247.1 L808.2,249.7 L807.5,252.2 L806,254.9 L805.2,257.9 L804.2,260.7 L803.2,262.9 L802.5,265.4 L800.9,267.4 L799.8,269.7 L797.5,271.5 L795.9,274 M826.4,130.7 L827.7,128.1 L830.1,126.4 L830.8,123.5 L832.3,121 L835.3,119.2 L837.4,116.6 L840.2,116.4 L842.8,117.6 L845.7,117.1 L848.3,118.7 L850.9,117.9 L853.4,117.4 L855.9,116.5 L858.2,115.4 L860.8,114.8 L863.5,115.4 L865.9,116.7 L868.9,116 L871.1,118.2 L874.2,118 L876.3,119.3 L877.7,116.9 L880.2,114.8 L881.2,111.9 L884,111.2 L886.9,111.6 L889.6,110.1 L892.5,110 L895.3,109.7 L897.9,109.7 L900.5,109.5 L903.1,109 L905.7,108.3 L908.3,108 L910.8,107.5 L913.6,108 L916.2,107.2 L918.8,106.8 L921.3,105.4 L924,105.3 L926.8,105.3 L929,103.4 L931,101.3 L933.6,100.1 L936.3,99.1 L938.4,96.4 L940.9,94.5 L943.6,92.8 L947.1,91.8 L950.1,90 M817,163.6 L819.5,162.5 L822.1,161.6 L824.8,160.9 L827.5,160.4 L830.1,159.6 L832.8,159.1 L835.3,158.6 L837.9,157.7 L840.6,158 L843.2,157.4 L845.6,155.6 L848.4,156.3 L851,155.6 L853.5,154.7 L855.8,152.9 L858.7,153.2 L861.1,152.1 L863.4,150.3 L865.9,149.5 L868.9,150.2 L871.1,148.8 L873.2,147.2 L875.5,146 L877.9,145.1 L880.3,144.2 L883,144.1 L885.1,142.4 L887.3,141.2 L890.3,141.2 L892.9,140 L895.1,138.1 L898.1,138.1 L900.6,136.6 L903.3,135.8 L905.8,134.6 L908.6,133.9 L911.1,132.7 L913.8,131.7 L916,129.7 L918.9,129.4 L921.4,127.8 L924.2,126.8 L926.6,125.1 L929.5,124.4 L931.8,122.7 L934.2,121 L936.5,119.8 L938.6,118.6 L941.1,117.9 L943.1,116.2 L945.6,115.7 L947.6,114.1 L950.1,113.5 L952.7,112.4 L955.3,111.5 L958.1,110.9 L960.2,108.6 L963.3,108.8 L965.7,107.2 L968,106.2 L970.3,105.2 L972.7,104.4 L974.7,102.6 L977,101.7 M432,282.6 L434.6,280.8 L437,279 L440.1,279.6 L443.2,280.4 L445.7,281.9 L448.1,283.7 L451,284.7 L453.8,286.6 L457,287.5 L459.5,288 L462.1,287 L464.8,287.1 L469,290 L465.4,293.8 L467.2,296.2 L469.4,297.8 L472.2,299.3 L474.2,301.7 L475,304 L476.2,306.4 L477.5,308.8 L478,311.9 L478.4,315.1 L478,318.6 L477.1,322 M479.6,322 L482.6,322.1 L485.5,322.8 L488.4,323.9 L491.5,322.8 L494.5,322.9 L496.4,324.9 L498,327.5 L500.2,329 L502.8,330.1 L505.4,331.9 L503.7,336 L499.7,338.4 L498.9,340.8 L497.9,343.5 L500.5,346.2 L503.8,347.7 L506.4,350 L509.6,351.3 L512.1,351.8 L514.7,351.8 L517.3,351.8 L519.4,353.9 L521.9,354.9 L523.2,357.2 L524.2,360.1 L527.3,360.6 L529.9,361.5 L532.8,362.8 L535.7,363.7 L538.8,366.8 L541.9,369.9 L544.1,372.4 L545.1,375.2 L544.5,378.4 L545.1,381.6 L546.1,384.6 L546,387.8 L545.5,390.9 L544.7,394 M723.9,375.1 L723.3,377.7 L723.7,380.1 L724.5,382.6 L724.5,385.1 L725.2,387.6 L724.6,390.1 L725.3,392.6 L724.6,395.2 L725.1,397.7 L725.2,400.2 L725.1,402.7 L726.4,405.1 L726.9,407.6 L726.8,410.2 L726.5,412.7 M722.7,420.5 L721.9,423.1 L722,425.9 L721,428.5 L720.2,431.2 L720.7,434.1 L719.8,436.7 L719.4,439.4 L718.8,442 L717.5,444.3 L717.2,447 L716.4,449.4 L715.7,452 L713.9,454.2 L713.9,457.1 L711.9,459.2 L711.7,462.1 L710.9,464.7 L709,466.9 M792.2,275 L790.9,277.7 L789.3,280.3 L787.4,282.7 L784.1,284.5 L781.6,287.1 L779.8,290.4 L779.1,294.1 L776.9,297.1 L774.2,299.8 L773.6,303 L771.1,304.9 L769.9,307.8 L766.7,309.1 L765.2,312.4 L761.8,313.6 L761.6,316.7 L761.1,319.5 L759.7,322 M682.7,3 L684.7,5.1 L685.8,7.8 L687.7,10 L687.6,12.7 L688.9,15.1 L691.5,15.6 L694.2,15.9 L696.7,16.8 L698.9,18.4 L701.9,18.3 L703.9,21.6 L705.7,24.8 L705.5,27.5 L705.3,30.1 L706,32.5 L706,35.1 L708.1,37.3 L709.1,39.8 L708.9,42.7 L710.5,45 L710.3,47.7 L711.3,50.1 L712,52.4 L713.2,54.5 L714.8,56.4 L715.1,59.3 L716.9,61.1 L719.9,62.2 L722.5,63.7 L725.5,64.5 L728.6,64.8 L731.1,66.9 L734.4,67.7 L737.2,69.4 L739.4,70.8 L740.8,73 L738.9,75 L736.8,76.9 L733.3,78.3 L730.8,81 L730.3,83.9 L728.3,86 L727.1,88.6 L727,91.4 L725.7,93.7 L724.3,96 L723.3,98.8 L721.1,100.9 L720.3,104 L718.5,106 L716.4,107.8 L715.3,110.4 L712.7,112.8 L709.6,114.7 L708,117.6 L705.5,120 L707.9,122.8 L709.5,125.8 L710.5,129.2 L712,132.5 L709.5,135.4 L709.1,139 L706.8,141.8 L705.6,145.3 L703.7,148.1 L702.7,151.3 L702.7,154.4 L703.2,157.5 L703.7,160.6 L703.4,164.1 L706.4,165.5 L709.1,167.3 L711,169.8 L712.8,172.4 L713.7,175 L714.9,177.4 L714.8,180.2 L717.1,182.4 L719.2,184.7 L720.7,187 L723.3,187.9 L725.3,189.8 L726.1,192.5 L728.5,194 L729.6,196.3 L731,199.5 L733,202.4 L737.3,204.1 L739.6,206.2 L741.8,208.6 L744.7,210 L746.5,212.5 L748.7,214.7 L744.8,215.8 L742,218.3 L739.1,220.5 L735.8,222.1 L733,224.4 L729.3,225.5 L727.2,228 L724.1,229.1 L721.9,232 L719.6,234.8 L716.3,237.9 L712.9,240.9 L711.9,243.3 L709.6,244.6 L708.5,247.2 L706.1,248.4 L704.2,250 L701.9,251.2 L699.3,251.3 L697.1,252.7 L693.8,253.5 L690.7,254.9 L688.5,257.1 L685.9,258.9 L684.5,262.2 L682.5,265.3 L680.3,267.3 L679.8,270.1 L678.1,272.4 L677.6,275.3 L675.7,277.5 L674.7,280.1 L675.3,282.6 L676.5,285 L677.7,287.6 L676.5,290.2 L675.7,292.7 L675.1,295.1 L675.4,297.8 L677.3,299.9 L679.6,302.5 L681.5,305.5 L683.3,307.8 L684.8,310.4 L686.5,312.9 L688.5,314.7 L689.2,317.2 L690.5,319.4 L690.8,322 M811.5,192 L811.8,194.5 L813,197 L813,199.5 L812.2,202 M229,168.5 L224.9,168.9 L222.4,169.4 L220.1,170.2 L218,172.9 L215.2,175 L215.9,177.4 L217,179.7 L218.5,182.5 L220.4,185.1 L221.3,188.3 L220.9,190.7 L221.2,193.3 L220.7,195.8 L219.9,198.2 L220.4,201.1 L220.1,204.1 L221.4,206.9 L221.9,209.9 L218.7,211.9 L217.1,215.1 L215.4,217.5 L214.6,220.4 L212.8,222.9 L212.2,225.4 L210.9,227.6 L210.8,230.3 L209.1,232.3 L208.2,234.6 L207.5,237" fill="none" stroke="#000" stroke-width="3.2" stroke-linejoin="round" stroke-linecap="round"/>
<path d="M586.2,392.6 L586.6,395.1 L587.5,397.5 L588.3,400 L589,402.4 L589,405 L590.3,407.6 L590.9,410.6 L592.5,413.1 L594.1,415.6 L595.4,418.2 L597.1,420.7 L599.3,422.8 L600.7,425.5 L603.2,427.3 L603.4,430.4 L604.8,432.8 L606.6,435.1 L605.6,437.7 L604.3,440 L604.7,442.7 L603.9,445.1 L604.1,447.6 L605.6,450 L606.4,453.1 L609.6,454.8 L609.8,457.6 L609.3,460.3 L610.3,462.7 L611.5,465.1 L611.2,467.8 M611.2,392.6 L610,395 L610.1,397.6 L609.3,400 L608.7,402.5 L609.5,404.9 L609.5,408.2 L611.7,410.4 L613.7,412.7 M546.1,392.5 L543.8,393.9 L541.2,394.4 L539.1,395.4 L537.1,398.7 L534.8,399.9 L533,401.9 L531.5,404.2 L528.3,406 L525.3,408.3 L525.1,411.2 L525.2,414.1 L523,416.3 L523.3,419.3 L524.7,422.1 L525.5,424.9 L526.6,428 L527.2,431.5 L529.6,432.7 L532.4,432.9 L535.4,430.7 L536.9,427.2 L538.9,425.5 L541.4,424.2 L543.1,422.2 L544.6,420 L546.2,416.6 L547.7,419.3 L549.4,422.3 L549.6,425 L551.1,427.3 L550.9,430.2 L553,432 L554.4,434.3 L556,436.5 L558.9,438.6 L561.1,441.3 L564,441.8 L565.7,444.6 L568.6,445.2 L570.8,446.9 L573.9,445.9 L576.1,447.8 L578.5,449.3 L581.4,449.8 L583.9,450.6 L586.3,451 L588.9,451.3 L591.3,453.4 L594.5,453 L596.8,455.2 L599.8,455.4 L602.5,456.5 L604.8,458.1 L607.1,459.6 L609.4,461.4 L611.8,462.9 L614.8,464.1 L617,466.4 L620,467.7 M574.9,380 L575.9,382.4 L575,385.1 L576.5,387.5 L575,389.9 L574.2,392.5 L575.9,394.9 L574.8,397.6 L574.9,400.1 L576.6,402.5 L577.2,405.4 L577,408.4 L575.3,411.5 L578.4,414.1 L578,418.1 L581.7,419.6 L583.4,423 L586.7,423.8 L589,425.7 L591,427.9 L594.2,428.1 L595.8,430.5 L596.9,433.2 L599.7,434.8 L601.9,436.9 L603.5,440 L607.1,442.2 L607.5,445.6 L607.3,449 L608.7,452 M588.7,380 L589.8,383.1 L589.7,386.3 L589.5,389.4 L589.2,392.5 L589.9,394.9 L590.7,397.3 L589.9,400.2 L590.7,402.7 L591.3,405.3 L593.7,407.3 L593.3,410.2 L594.9,412.5 L595.1,415.2 L596.1,417.7 L598.5,419 L599.8,421.7 L603.2,421.9 L604,425.4 L605.5,427.8 L605.6,430.1 L605,432.6 M607.5,410.5 L609.8,412.5 L610.2,415.8 L612.4,417.9 L613.8,420.5 L614.6,423.4 L614.7,426.6 L615.8,429.5 L619,432 L619.9,435.7 L622.6,437.6 L625.1,439.7 L627.2,442.4 L630.8,443.6 L633.8,445.6 L634.3,449 L636.4,451.8 L636.3,454.7 L636.3,457.7 L635.7,460.7 L637.2,463.3 L638.3,465.7 L639,468.1 L639.7,470.6 L638.4,473.1 L638.7,475.6 L639.6,478.1 L641.3,480 M653.9,415.5 L656,417.8 L658,420.4 L656.2,422.8 L656.3,425.6 L654.7,427.9 L653.7,430.3 L653.3,433 L652.7,435.6 L650.6,437.7 L650.2,440.6 L648.5,442.9 L649.3,445.9 L647.7,448.1 L649.9,452 L653.4,451.6 L656.4,453.8 L659.3,451.6 L662.6,451.8 M650.1,458.1 L653.1,460.3 L656.8,461.6 L656.3,464.9 L657.9,467.6 L658,470.3 L660.4,470.5 L662.7,472.1 L665.1,473.1 L667.5,471.8 L670.4,472 L672.3,469.5 L675.1,469.6 L677.6,468.6 L680.2,469.1 L682.7,469.2 L685.2,468.8 L687.5,467.2 L690,466.7 L692.8,466.4 L695.5,466.2 L697.3,463.6 L701,462.7 L704.3,460.9 L705.8,458.7 L706.2,456 L708.3,454.3 L708.9,451.8 L711,449 L710.6,445.3 L713,443.3 L712.6,440.6 L713.2,438.1 L713.2,435.4 L714.3,432.9 L716.1,430.7 L716.8,428.2 L717.8,425.1 L719.9,422.8 L721.3,420.1 L723,417.7 L724.7,415.2 L725.8,412.9 L728,410.8 L728,408 M603.8,420.5 L603.7,423.3 L605,425.8 L606.2,428.4 L605.6,431.3 L605.8,434.1 L607.3,436.6 L607.3,439.3 L607.6,442 L608.5,444.5 L610.7,446.5 L610.6,449.3 L612.2,451.6 L612.5,454.4 L611.5,457.3 L612.7,459.9 L612.8,462.7 L613.5,465.4 L613.8,468.1 M687,316 L688.5,318.4 L688.7,321.4 L690.4,323.6 L690.7,326.4 L691.8,329.1 L692.4,331.9 L691.9,334.8 L691.8,337.8 L692.3,340.8 L693.6,343.5 L696.3,345.6 L698.3,348.6 L698.4,351.3 L700.6,353.4 L700.3,356.2 L702.1,358.4 L702.4,360.9 L705.2,363 L707.4,365.8 L709,368.1 L709.7,370.9 L711.5,373.1 L714.9,373.1 L717.3,374.5 L719.6,377 L722.4,374.4 L723.1,377.9 L723.5,381.1 L724.8,384.4 L724.6,388 M702.1,318.5 L705,319 L707.1,321 L710.1,321.8 L711.5,325.4 L713.1,328.8 L716.5,328.3 L719.6,327.2 L722.6,327.4 L725.6,327.5 L728.4,328.3 L731,328.5 L733.5,328.8 L735.6,330.1 L736.3,332.3 L736.8,334.8 L737.7,337.4 L735.9,339.7 L736,342.5 L735,345 L733.2,347.9 L731.7,351 L730.8,353.5 L730.8,356 L730.4,359.3 L734.2,358.8 L737.3,357.7 L740.5,355.8 L742.9,352.9 L745.1,351.1 L746.9,348.7 L750.3,347.7 L751.3,345.3 L752.4,343 L753,340.5 L754.4,338.4 L755.3,335.4 L757.4,333 L759.3,330.5 L759.4,327.1 L760.6,324.3 L762.5,321.9 L764.5,319.6 L767.1,318.5 L768.4,316 M725,390 L722.5,390.6 L719.9,390.5 L717.5,391.7 L715,391.4 L712.1,390.7 L708.8,391.4 L706,390 M725,397 L722.2,397.3 L719.5,397.7 L716.7,398.1 L714,399.1 L711.3,400.8 L707.9,400.6 L705,402 M645.8,430 L647.2,432.3 L648.9,434.2 L650.8,436.2 L651.2,439 L652.5,442.1 L654,445.1 L657.4,447.1 L659.1,450.3 L662.7,450.9 L665.9,452.3 L666,454.7 L664.2,456.9 L662.5,459 L661.5,461.6 L661.3,464.8 L659.7,467.1 L658.2,469.5 L655.7,471.4 L654.4,473.9 L653.6,476.5 L652.7,479 L651.6,481.4 M677.2,299 L680.1,299.1 L683.1,298.6 L686.3,299.6 L689,301.4 L690.6,303.4 L693.3,304.8 L694.2,307.5 L695.9,309.7 L698.4,313.4 L700,316 L702.1,318.5" fill="none" stroke="#000" stroke-width="3.4" stroke-linejoin="round" stroke-linecap="round"/>
<g fill="#000"><circle cx="834.5" cy="105.8" r="1.1"/><circle cx="837.3" cy="105.8" r="1.7"/><circle cx="847.1" cy="102.1" r="2.0"/><circle cx="850.2" cy="102.2" r="1.6"/><circle cx="852.8" cy="101.3" r="1.9"/><circle cx="862.3" cy="95.3" r="1.4"/><circle cx="872.4" cy="91.0" r="1.6"/><circle cx="874.9" cy="85.6" r="1.0"/><circle cx="877.2" cy="84.4" r="1.8"/><circle cx="880.4" cy="84.5" r="1.6"/><circle cx="883.2" cy="79.8" r="1.8"/><circle cx="888.4" cy="78.2" r="1.6"/><circle cx="890.8" cy="77.3" r="1.1"/><circle cx="891.9" cy="74.3" r="1.7"/><circle cx="895.0" cy="75.3" r="2.0"/><circle cx="897.2" cy="73.4" r="1.4"/><circle cx="909.8" cy="70.7" r="1.1"/><circle cx="914.9" cy="71.8" r="0.8"/><circle cx="917.3" cy="70.6" r="1.6"/><circle cx="924.9" cy="69.8" r="1.4"/><circle cx="927.1" cy="67.9" r="1.9"/><circle cx="930.3" cy="70.4" r="1.9"/><circle cx="932.4" cy="68.0" r="1.8"/><circle cx="937.3" cy="66.3" r="1.1"/><circle cx="942.5" cy="66.4" r="1.0"/><circle cx="945.3" cy="67.2" r="1.0"/><circle cx="950.3" cy="65.8" r="1.6"/><circle cx="952.8" cy="65.2" r="1.4"/><circle cx="954.6" cy="61.5" r="1.4"/><circle cx="957.3" cy="61.9" r="1.0"/><circle cx="959.8" cy="61.3" r="1.8"/><circle cx="962.7" cy="62.2" r="1.8"/><circle cx="965.4" cy="62.2" r="1.7"/><circle cx="969.0" cy="57.7" r="1.3"/><circle cx="972.6" cy="53.6" r="1.3"/><circle cx="927.3" cy="114.9" r="1.4"/><circle cx="929.6" cy="113.4" r="0.9"/><circle cx="933.2" cy="114.2" r="1.0"/><circle cx="935.1" cy="111.9" r="1.8"/><circle cx="936.9" cy="109.5" r="1.1"/><circle cx="939.3" cy="108.1" r="1.9"/><circle cx="944.3" cy="101.0" r="1.7"/><circle cx="949.7" cy="98.4" r="0.8"/><circle cx="952.6" cy="97.3" r="1.8"/><circle cx="956.5" cy="89.2" r="1.0"/><circle cx="959.8" cy="88.8" r="1.9"/><circle cx="967.6" cy="81.6" r="0.8"/><circle cx="937.2" cy="111.8" r="1.1"/><circle cx="944.6" cy="109.2" r="1.4"/><circle cx="949.6" cy="108.2" r="1.6"/><circle cx="954.2" cy="104.9" r="1.2"/><circle cx="957.8" cy="105.8" r="1.0"/><circle cx="964.8" cy="100.8" r="2.0"/><circle cx="968.1" cy="101.9" r="1.1"/><circle cx="970.7" cy="100.7" r="1.2"/><circle cx="959.4" cy="82.6" r="1.9"/><circle cx="965.3" cy="80.7" r="1.3"/><circle cx="967.3" cy="78.0" r="1.0"/><circle cx="969.9" cy="76.1" r="1.2"/><circle cx="804.3" cy="158.6" r="1.9"/><circle cx="805.5" cy="156.1" r="1.9"/><circle cx="806.9" cy="153.7" r="1.8"/><circle cx="808.2" cy="148.1" r="0.9"/><circle cx="813.0" cy="144.2" r="1.9"/><circle cx="812.7" cy="140.9" r="1.9"/><circle cx="817.4" cy="138.8" r="1.2"/><circle cx="819.2" cy="135.6" r="1.7"/><circle cx="829.8" cy="133.4" r="1.4"/><circle cx="838.2" cy="131.6" r="1.3"/><circle cx="842.3" cy="132.7" r="1.0"/><circle cx="813.7" cy="122.8" r="0.9"/><circle cx="811.0" cy="124.9" r="1.3"/><circle cx="811.5" cy="127.6" r="1.5"/><circle cx="807.5" cy="139.8" r="1.2"/><circle cx="808.6" cy="142.6" r="1.7"/><circle cx="808.5" cy="145.4" r="1.1"/><circle cx="804.9" cy="146.8" r="1.5"/><circle cx="804.7" cy="150.3" r="2.0"/><circle cx="803.4" cy="153.3" r="1.8"/><circle cx="796.1" cy="156.4" r="1.8"/><circle cx="790.8" cy="163.0" r="0.9"/><circle cx="787.4" cy="164.3" r="1.5"/><circle cx="784.3" cy="170.5" r="1.3"/><circle cx="782.3" cy="171.8" r="1.9"/><circle cx="780.0" cy="173.6" r="1.5"/><circle cx="777.9" cy="175.5" r="1.0"/><circle cx="780.2" cy="175.8" r="1.2"/><circle cx="782.5" cy="177.3" r="2.0"/><circle cx="785.4" cy="175.3" r="1.7"/><circle cx="788.6" cy="175.3" r="1.9"/><circle cx="791.1" cy="178.7" r="1.3"/><circle cx="797.6" cy="178.1" r="0.8"/><circle cx="800.3" cy="180.6" r="1.9"/><circle cx="802.9" cy="178.8" r="1.2"/><circle cx="804.5" cy="175.7" r="1.1"/><circle cx="807.5" cy="176.6" r="0.9"/><circle cx="810.7" cy="178.3" r="2.0"/><circle cx="813.2" cy="179.9" r="1.9"/><circle cx="814.3" cy="185.2" r="1.9"/><circle cx="810.7" cy="188.3" r="1.5"/><circle cx="815.0" cy="119.9" r="0.8"/><circle cx="814.8" cy="125.3" r="1.5"/><circle cx="814.7" cy="130.8" r="1.5"/><circle cx="813.5" cy="133.4" r="1.3"/><circle cx="815.4" cy="136.3" r="1.5"/><circle cx="814.2" cy="139.0" r="1.7"/><circle cx="812.9" cy="144.1" r="1.4"/><circle cx="812.4" cy="146.7" r="1.3"/><circle cx="810.5" cy="148.9" r="1.4"/><circle cx="809.1" cy="151.2" r="0.9"/><circle cx="812.7" cy="157.6" r="1.4"/><circle cx="822.4" cy="157.3" r="1.9"/><circle cx="824.8" cy="154.6" r="1.7"/><circle cx="828.6" cy="155.1" r="1.1"/><circle cx="809.0" cy="145.0" r="1.2"/><circle cx="811.6" cy="143.1" r="1.0"/><circle cx="823.4" cy="140.3" r="0.9"/><circle cx="825.7" cy="138.3" r="1.2"/><circle cx="811.1" cy="201.9" r="1.1"/><circle cx="812.2" cy="207.1" r="1.7"/><circle cx="812.6" cy="209.6" r="1.7"/><circle cx="810.0" cy="211.9" r="1.1"/><circle cx="809.8" cy="219.4" r="1.2"/><circle cx="811.9" cy="222.2" r="1.0"/><circle cx="809.7" cy="227.0" r="1.9"/><circle cx="810.4" cy="229.6" r="1.6"/><circle cx="811.0" cy="232.2" r="1.2"/><circle cx="809.4" cy="234.6" r="1.1"/><circle cx="808.3" cy="237.0" r="1.0"/><circle cx="809.5" cy="242.2" r="1.9"/><circle cx="809.2" cy="244.7" r="0.9"/><circle cx="807.2" cy="255.3" r="0.8"/><circle cx="805.2" cy="261.1" r="1.6"/><circle cx="802.1" cy="262.3" r="1.7"/><circle cx="800.9" cy="264.5" r="0.9"/><circle cx="801.2" cy="267.6" r="1.1"/><circle cx="798.9" cy="269.0" r="0.8"/><circle cx="796.6" cy="270.8" r="1.0"/><circle cx="795.6" cy="273.7" r="1.4"/><circle cx="825.7" cy="130.2" r="1.6"/><circle cx="830.7" cy="126.8" r="0.8"/><circle cx="830.3" cy="123.1" r="1.7"/><circle cx="837.9" cy="117.9" r="1.2"/><circle cx="839.9" cy="118.5" r="1.6"/><circle cx="851.1" cy="118.7" r="1.6"/><circle cx="856.0" cy="117.1" r="1.5"/><circle cx="858.0" cy="114.6" r="1.5"/><circle cx="860.8" cy="116.5" r="1.0"/><circle cx="863.7" cy="114.1" r="1.9"/><circle cx="866.3" cy="114.8" r="0.8"/><circle cx="868.5" cy="117.3" r="1.6"/><circle cx="876.6" cy="120.0" r="1.2"/><circle cx="884.2" cy="112.7" r="1.9"/><circle cx="889.5" cy="109.5" r="0.9"/><circle cx="892.7" cy="111.3" r="1.8"/><circle cx="903.0" cy="107.4" r="0.9"/><circle cx="908.2" cy="107.6" r="1.3"/><circle cx="910.8" cy="107.1" r="1.1"/><circle cx="916.0" cy="106.3" r="2.0"/><circle cx="919.0" cy="107.7" r="1.5"/><circle cx="921.3" cy="105.6" r="1.3"/><circle cx="926.9" cy="105.6" r="1.4"/><circle cx="929.7" cy="104.4" r="0.9"/><circle cx="932.7" cy="98.7" r="1.0"/><circle cx="941.2" cy="94.9" r="1.4"/><circle cx="946.9" cy="91.5" r="1.2"/><circle cx="819.3" cy="161.6" r="1.1"/><circle cx="822.3" cy="162.1" r="1.0"/><circle cx="824.5" cy="160.2" r="2.0"/><circle cx="830.6" cy="161.3" r="0.9"/><circle cx="833.1" cy="160.6" r="1.8"/><circle cx="837.7" cy="156.8" r="1.6"/><circle cx="840.3" cy="156.3" r="1.3"/><circle cx="843.0" cy="156.5" r="1.7"/><circle cx="848.4" cy="156.3" r="1.4"/><circle cx="851.0" cy="155.4" r="1.3"/><circle cx="858.6" cy="152.9" r="1.7"/><circle cx="860.8" cy="150.9" r="1.7"/><circle cx="877.8" cy="145.0" r="1.6"/><circle cx="880.3" cy="144.4" r="1.7"/><circle cx="887.4" cy="141.4" r="1.3"/><circle cx="892.9" cy="140.2" r="1.9"/><circle cx="895.5" cy="139.1" r="1.7"/><circle cx="897.9" cy="137.5" r="2.0"/><circle cx="900.6" cy="136.6" r="1.0"/><circle cx="907.8" cy="132.0" r="1.5"/><circle cx="911.2" cy="133.0" r="1.4"/><circle cx="918.7" cy="128.8" r="1.9"/><circle cx="921.7" cy="128.4" r="1.3"/><circle cx="927.4" cy="126.8" r="1.2"/><circle cx="928.8" cy="123.2" r="1.3"/><circle cx="931.7" cy="122.3" r="1.3"/><circle cx="936.3" cy="119.4" r="1.1"/><circle cx="942.9" cy="115.9" r="1.8"/><circle cx="945.2" cy="114.8" r="1.0"/><circle cx="955.4" cy="111.6" r="1.1"/><circle cx="960.7" cy="109.8" r="1.8"/><circle cx="965.4" cy="106.5" r="1.5"/><circle cx="968.5" cy="107.2" r="1.2"/><circle cx="972.3" cy="103.5" r="1.1"/><circle cx="974.2" cy="101.8" r="0.8"/><circle cx="433.0" cy="283.9" r="0.9"/><circle cx="440.1" cy="279.8" r="1.6"/><circle cx="444.8" cy="283.2" r="1.4"/><circle cx="447.5" cy="284.6" r="0.8"/><circle cx="456.7" cy="288.9" r="1.2"/><circle cx="459.5" cy="287.7" r="1.7"/><circle cx="462.1" cy="287.4" r="1.3"/><circle cx="464.2" cy="288.7" r="1.2"/><circle cx="465.8" cy="293.8" r="1.1"/><circle cx="466.5" cy="296.9" r="1.6"/><circle cx="472.5" cy="299.0" r="1.2"/><circle cx="474.2" cy="301.7" r="1.7"/><circle cx="474.7" cy="304.2" r="1.9"/><circle cx="477.8" cy="305.9" r="1.2"/><circle cx="478.2" cy="308.6" r="1.9"/><circle cx="479.5" cy="322.5" r="1.9"/><circle cx="482.5" cy="322.7" r="0.8"/><circle cx="485.3" cy="324.0" r="1.5"/><circle cx="491.3" cy="321.2" r="1.3"/><circle cx="494.1" cy="324.1" r="2.0"/><circle cx="496.7" cy="324.6" r="0.9"/><circle cx="501.3" cy="327.7" r="0.8"/><circle cx="502.1" cy="330.8" r="0.9"/><circle cx="502.4" cy="335.0" r="1.0"/><circle cx="499.0" cy="337.8" r="1.1"/><circle cx="499.9" cy="342.7" r="1.7"/><circle cx="509.6" cy="351.2" r="1.7"/><circle cx="511.9" cy="352.8" r="1.1"/><circle cx="520.5" cy="351.8" r="1.6"/><circle cx="524.1" cy="356.8" r="1.7"/><circle cx="523.8" cy="360.5" r="1.4"/><circle cx="527.4" cy="360.4" r="1.5"/><circle cx="529.5" cy="362.7" r="1.0"/><circle cx="535.7" cy="363.7" r="1.6"/><circle cx="538.8" cy="366.8" r="1.7"/><circle cx="545.4" cy="375.2" r="0.9"/><circle cx="545.2" cy="387.7" r="2.0"/><circle cx="725.8" cy="380.0" r="1.8"/><circle cx="724.4" cy="385.1" r="1.9"/><circle cx="725.1" cy="390.1" r="1.5"/><circle cx="726.3" cy="392.5" r="1.0"/><circle cx="725.3" cy="397.6" r="1.3"/><circle cx="726.9" cy="400.1" r="0.9"/><circle cx="727.4" cy="405.1" r="1.6"/><circle cx="726.0" cy="410.2" r="1.2"/><circle cx="728.2" cy="412.6" r="0.8"/><circle cx="724.2" cy="420.8" r="0.9"/><circle cx="720.9" cy="422.9" r="1.3"/><circle cx="720.2" cy="431.2" r="1.3"/><circle cx="718.4" cy="433.6" r="1.1"/><circle cx="719.0" cy="436.5" r="1.9"/><circle cx="718.4" cy="441.9" r="1.0"/><circle cx="717.5" cy="449.8" r="1.1"/><circle cx="713.8" cy="451.3" r="1.9"/><circle cx="712.2" cy="456.5" r="1.7"/><circle cx="711.4" cy="464.9" r="1.7"/><circle cx="789.2" cy="276.7" r="1.8"/><circle cx="787.3" cy="282.7" r="0.9"/><circle cx="779.0" cy="294.1" r="1.8"/><circle cx="776.2" cy="296.7" r="1.0"/><circle cx="776.0" cy="301.0" r="1.7"/><circle cx="774.1" cy="303.3" r="1.8"/><circle cx="771.6" cy="305.3" r="1.0"/><circle cx="768.8" cy="306.8" r="1.2"/><circle cx="767.2" cy="309.7" r="1.2"/><circle cx="760.8" cy="312.9" r="0.9"/><circle cx="759.8" cy="322.0" r="1.1"/><circle cx="681.7" cy="3.7" r="1.4"/><circle cx="684.6" cy="5.2" r="1.9"/><circle cx="685.8" cy="7.8" r="1.0"/><circle cx="686.8" cy="10.4" r="1.7"/><circle cx="689.8" cy="12.1" r="0.9"/><circle cx="691.7" cy="15.0" r="1.0"/><circle cx="702.2" cy="18.0" r="0.9"/><circle cx="704.5" cy="25.3" r="0.9"/><circle cx="704.6" cy="30.2" r="1.8"/><circle cx="707.9" cy="32.3" r="1.9"/><circle cx="705.2" cy="35.3" r="1.1"/><circle cx="706.3" cy="37.9" r="1.2"/><circle cx="708.8" cy="39.9" r="1.5"/><circle cx="709.2" cy="42.6" r="1.3"/><circle cx="711.5" cy="44.7" r="1.7"/><circle cx="710.8" cy="52.9" r="1.3"/><circle cx="713.1" cy="57.5" r="1.9"/><circle cx="715.6" cy="58.9" r="1.4"/><circle cx="718.1" cy="59.7" r="2.0"/><circle cx="720.3" cy="61.4" r="0.9"/><circle cx="722.1" cy="64.9" r="0.8"/><circle cx="725.2" cy="65.3" r="1.0"/><circle cx="728.3" cy="65.8" r="1.5"/><circle cx="731.1" cy="67.0" r="0.9"/><circle cx="740.4" cy="70.0" r="1.4"/><circle cx="741.8" cy="73.1" r="0.9"/><circle cx="739.4" cy="75.7" r="1.5"/><circle cx="733.6" cy="78.6" r="1.7"/><circle cx="730.4" cy="80.6" r="1.9"/><circle cx="730.3" cy="83.9" r="1.8"/><circle cx="729.2" cy="86.5" r="1.9"/><circle cx="727.6" cy="91.6" r="1.2"/><circle cx="724.2" cy="93.2" r="1.8"/><circle cx="719.9" cy="103.8" r="1.9"/><circle cx="716.9" cy="108.2" r="1.6"/><circle cx="714.9" cy="110.0" r="0.9"/><circle cx="712.5" cy="112.6" r="0.8"/><circle cx="708.7" cy="114.0" r="1.7"/><circle cx="711.0" cy="132.5" r="1.1"/><circle cx="708.7" cy="138.7" r="1.9"/><circle cx="704.9" cy="145.0" r="1.3"/><circle cx="703.2" cy="151.4" r="1.6"/><circle cx="702.2" cy="154.4" r="1.9"/><circle cx="703.3" cy="157.5" r="1.4"/><circle cx="704.4" cy="160.4" r="0.9"/><circle cx="704.4" cy="163.4" r="1.3"/><circle cx="706.9" cy="165.0" r="0.9"/><circle cx="707.9" cy="168.5" r="1.5"/><circle cx="710.2" cy="170.4" r="1.0"/><circle cx="713.2" cy="175.2" r="1.5"/><circle cx="714.8" cy="177.4" r="1.1"/><circle cx="715.0" cy="180.1" r="1.3"/><circle cx="718.3" cy="181.5" r="1.2"/><circle cx="720.7" cy="186.9" r="1.4"/><circle cx="721.8" cy="189.8" r="1.2"/><circle cx="727.8" cy="191.3" r="1.8"/><circle cx="729.3" cy="193.4" r="1.3"/><circle cx="728.8" cy="196.9" r="0.9"/><circle cx="730.0" cy="200.1" r="1.7"/><circle cx="733.7" cy="201.6" r="1.2"/><circle cx="746.4" cy="212.6" r="1.7"/><circle cx="744.6" cy="215.5" r="1.7"/><circle cx="738.2" cy="219.0" r="0.8"/><circle cx="732.7" cy="223.9" r="2.0"/><circle cx="729.7" cy="226.0" r="1.7"/><circle cx="722.1" cy="232.2" r="1.3"/><circle cx="716.3" cy="237.9" r="1.5"/><circle cx="713.5" cy="241.4" r="1.7"/><circle cx="710.1" cy="245.1" r="1.0"/><circle cx="708.9" cy="247.7" r="1.5"/><circle cx="707.1" cy="249.5" r="1.9"/><circle cx="703.6" cy="249.0" r="1.8"/><circle cx="699.5" cy="252.0" r="1.9"/><circle cx="697.6" cy="254.0" r="1.5"/><circle cx="693.3" cy="252.3" r="1.7"/><circle cx="689.9" cy="253.4" r="1.4"/><circle cx="687.9" cy="256.4" r="1.3"/><circle cx="685.5" cy="258.6" r="1.2"/><circle cx="682.1" cy="268.1" r="1.2"/><circle cx="679.3" cy="269.9" r="1.5"/><circle cx="676.0" cy="277.7" r="1.5"/><circle cx="675.2" cy="282.6" r="1.8"/><circle cx="676.8" cy="284.9" r="2.0"/><circle cx="677.5" cy="290.5" r="1.9"/><circle cx="680.4" cy="301.7" r="1.1"/><circle cx="682.0" cy="305.1" r="1.0"/><circle cx="683.3" cy="307.9" r="1.5"/><circle cx="683.9" cy="311.1" r="1.6"/><circle cx="687.3" cy="312.4" r="1.7"/><circle cx="687.3" cy="315.2" r="0.8"/><circle cx="687.8" cy="317.8" r="1.5"/><circle cx="690.8" cy="322.0" r="1.5"/><circle cx="812.8" cy="197.0" r="1.6"/><circle cx="811.0" cy="201.9" r="1.2"/><circle cx="220.7" cy="171.3" r="1.0"/><circle cx="218.0" cy="172.9" r="1.3"/><circle cx="215.6" cy="175.1" r="1.6"/><circle cx="214.6" cy="177.8" r="1.5"/><circle cx="218.5" cy="182.5" r="1.6"/><circle cx="221.5" cy="184.5" r="1.8"/><circle cx="222.8" cy="191.0" r="1.8"/><circle cx="221.2" cy="195.9" r="0.9"/><circle cx="218.8" cy="201.3" r="1.7"/><circle cx="220.1" cy="204.1" r="1.3"/><circle cx="220.1" cy="213.3" r="1.9"/><circle cx="215.3" cy="213.9" r="1.6"/><circle cx="213.8" cy="226.1" r="1.6"/><circle cx="211.3" cy="227.7" r="1.9"/><circle cx="209.4" cy="229.7" r="0.9"/><circle cx="207.3" cy="236.9" r="2.0"/><circle cx="584.7" cy="392.9" r="2.9"/><circle cx="587.9" cy="394.9" r="2.0"/><circle cx="589.6" cy="397.1" r="1.9"/><circle cx="586.6" cy="400.3" r="2.2"/><circle cx="589.2" cy="402.4" r="2.2"/><circle cx="590.4" cy="404.4" r="1.5"/><circle cx="587.6" cy="408.6" r="2.8"/><circle cx="590.2" cy="409.9" r="3.2"/><circle cx="594.3" cy="410.3" r="2.3"/><circle cx="595.2" cy="412.6" r="2.4"/><circle cx="592.9" cy="416.8" r="2.6"/><circle cx="594.1" cy="419.0" r="2.6"/><circle cx="598.6" cy="418.8" r="1.6"/><circle cx="597.4" cy="422.3" r="2.9"/><circle cx="601.4" cy="422.3" r="2.5"/><circle cx="599.1" cy="426.4" r="1.7"/><circle cx="600.5" cy="428.0" r="2.7"/><circle cx="604.8" cy="428.4" r="2.9"/><circle cx="604.9" cy="430.9" r="2.4"/><circle cx="603.5" cy="434.0" r="1.8"/><circle cx="605.8" cy="435.2" r="2.5"/><circle cx="604.6" cy="437.5" r="3.0"/><circle cx="604.7" cy="442.7" r="1.7"/><circle cx="603.8" cy="445.1" r="1.5"/><circle cx="605.6" cy="447.4" r="2.2"/><circle cx="608.3" cy="450.0" r="2.2"/><circle cx="606.4" cy="454.0" r="1.4"/><circle cx="606.9" cy="455.9" r="2.8"/><circle cx="610.4" cy="457.5" r="2.6"/><circle cx="610.1" cy="460.2" r="2.0"/><circle cx="609.3" cy="462.9" r="2.9"/><circle cx="612.3" cy="467.6" r="2.2"/><circle cx="611.9" cy="392.7" r="2.4"/><circle cx="610.5" cy="395.1" r="2.4"/><circle cx="612.3" cy="398.0" r="1.7"/><circle cx="611.3" cy="403.0" r="3.0"/><circle cx="610.9" cy="404.7" r="2.4"/><circle cx="610.0" cy="407.0" r="2.4"/><circle cx="610.9" cy="409.1" r="1.6"/><circle cx="612.0" cy="411.1" r="1.5"/><circle cx="615.7" cy="411.4" r="2.2"/><circle cx="545.5" cy="390.7" r="2.1"/><circle cx="542.8" cy="390.9" r="2.4"/><circle cx="541.7" cy="396.1" r="2.8"/><circle cx="539.7" cy="395.9" r="2.1"/><circle cx="536.9" cy="398.5" r="1.8"/><circle cx="534.5" cy="399.6" r="2.2"/><circle cx="529.7" cy="402.2" r="2.4"/><circle cx="524.9" cy="408.1" r="2.0"/><circle cx="524.3" cy="411.0" r="2.9"/><circle cx="525.1" cy="414.0" r="2.7"/><circle cx="526.4" cy="418.2" r="2.5"/><circle cx="523.9" cy="420.7" r="2.8"/><circle cx="522.1" cy="423.2" r="2.6"/><circle cx="526.5" cy="424.7" r="2.2"/><circle cx="525.2" cy="427.4" r="1.6"/><circle cx="528.5" cy="428.5" r="2.8"/><circle cx="527.1" cy="431.6" r="1.9"/><circle cx="530.0" cy="431.4" r="1.7"/><circle cx="534.7" cy="431.7" r="2.9"/><circle cx="536.7" cy="427.0" r="1.7"/><circle cx="540.7" cy="427.2" r="2.8"/><circle cx="539.8" cy="422.6" r="2.9"/><circle cx="542.5" cy="421.5" r="2.3"/><circle cx="546.5" cy="421.0" r="2.1"/><circle cx="549.1" cy="417.5" r="2.0"/><circle cx="545.7" cy="421.3" r="2.5"/><circle cx="550.3" cy="422.0" r="2.0"/><circle cx="549.0" cy="425.2" r="2.1"/><circle cx="552.9" cy="426.7" r="2.4"/><circle cx="553.5" cy="428.8" r="2.2"/><circle cx="556.0" cy="433.1" r="2.6"/><circle cx="557.1" cy="435.6" r="2.3"/><circle cx="557.5" cy="438.3" r="2.4"/><circle cx="563.4" cy="442.9" r="2.8"/><circle cx="568.3" cy="445.8" r="2.5"/><circle cx="571.5" cy="444.8" r="2.8"/><circle cx="579.2" cy="447.9" r="2.8"/><circle cx="581.2" cy="450.2" r="2.5"/><circle cx="583.6" cy="451.7" r="2.1"/><circle cx="586.3" cy="450.8" r="2.0"/><circle cx="591.2" cy="452.0" r="1.8"/><circle cx="593.6" cy="452.7" r="1.6"/><circle cx="595.0" cy="456.2" r="2.2"/><circle cx="597.8" cy="455.3" r="1.9"/><circle cx="600.9" cy="453.4" r="1.9"/><circle cx="602.0" cy="457.5" r="2.4"/><circle cx="604.9" cy="460.9" r="2.5"/><circle cx="609.1" cy="458.7" r="2.4"/><circle cx="611.1" cy="464.0" r="2.2"/><circle cx="616.0" cy="465.1" r="3.0"/><circle cx="618.7" cy="465.3" r="1.4"/><circle cx="620.7" cy="466.6" r="2.7"/><circle cx="573.7" cy="380.2" r="2.8"/><circle cx="576.4" cy="382.3" r="2.8"/><circle cx="577.4" cy="387.6" r="2.3"/><circle cx="577.6" cy="392.7" r="2.3"/><circle cx="573.7" cy="395.2" r="2.1"/><circle cx="574.5" cy="400.2" r="1.6"/><circle cx="578.2" cy="402.4" r="1.5"/><circle cx="575.9" cy="404.7" r="1.7"/><circle cx="578.2" cy="409.1" r="1.7"/><circle cx="573.9" cy="411.7" r="1.7"/><circle cx="575.6" cy="414.0" r="1.8"/><circle cx="578.1" cy="418.0" r="2.0"/><circle cx="580.5" cy="419.1" r="2.0"/><circle cx="582.9" cy="423.6" r="1.5"/><circle cx="586.5" cy="424.0" r="3.0"/><circle cx="588.5" cy="426.6" r="2.1"/><circle cx="596.7" cy="429.6" r="1.9"/><circle cx="597.6" cy="432.3" r="1.8"/><circle cx="599.1" cy="435.7" r="2.6"/><circle cx="600.5" cy="438.3" r="1.8"/><circle cx="605.4" cy="437.5" r="3.0"/><circle cx="604.9" cy="443.1" r="2.9"/><circle cx="607.7" cy="444.7" r="2.3"/><circle cx="607.1" cy="449.9" r="2.5"/><circle cx="608.3" cy="452.1" r="3.0"/><circle cx="591.2" cy="379.5" r="2.3"/><circle cx="589.7" cy="383.1" r="1.6"/><circle cx="587.2" cy="386.3" r="2.0"/><circle cx="588.8" cy="392.5" r="1.6"/><circle cx="591.1" cy="394.6" r="2.6"/><circle cx="588.7" cy="397.8" r="2.3"/><circle cx="591.4" cy="399.8" r="2.3"/><circle cx="593.5" cy="404.5" r="3.1"/><circle cx="594.9" cy="409.7" r="1.7"/><circle cx="596.8" cy="411.8" r="1.5"/><circle cx="595.9" cy="414.9" r="2.4"/><circle cx="598.4" cy="416.0" r="2.6"/><circle cx="598.1" cy="419.5" r="2.4"/><circle cx="598.7" cy="423.0" r="3.0"/><circle cx="602.9" cy="422.2" r="2.0"/><circle cx="602.2" cy="426.7" r="2.1"/><circle cx="606.7" cy="427.5" r="1.7"/><circle cx="604.4" cy="432.5" r="3.1"/><circle cx="605.2" cy="412.0" r="1.8"/><circle cx="607.6" cy="413.2" r="2.1"/><circle cx="610.5" cy="414.2" r="2.3"/><circle cx="610.4" cy="417.0" r="2.0"/><circle cx="612.3" cy="418.6" r="1.8"/><circle cx="615.0" cy="420.0" r="3.0"/><circle cx="613.2" cy="423.0" r="2.3"/><circle cx="616.6" cy="424.5" r="1.7"/><circle cx="616.2" cy="429.4" r="2.3"/><circle cx="618.8" cy="430.7" r="1.7"/><circle cx="619.0" cy="433.4" r="2.6"/><circle cx="618.3" cy="437.0" r="3.0"/><circle cx="622.3" cy="436.6" r="2.9"/><circle cx="625.1" cy="437.1" r="1.7"/><circle cx="627.1" cy="438.5" r="2.0"/><circle cx="627.5" cy="441.9" r="2.2"/><circle cx="630.0" cy="442.6" r="3.2"/><circle cx="631.9" cy="444.1" r="2.3"/><circle cx="632.7" cy="446.6" r="1.7"/><circle cx="635.3" cy="447.4" r="2.3"/><circle cx="636.1" cy="449.5" r="2.0"/><circle cx="639.0" cy="451.3" r="1.8"/><circle cx="638.8" cy="454.0" r="1.7"/><circle cx="637.6" cy="456.2" r="2.0"/><circle cx="634.4" cy="458.4" r="1.6"/><circle cx="634.4" cy="461.1" r="1.8"/><circle cx="636.1" cy="463.8" r="2.5"/><circle cx="641.3" cy="465.0" r="2.2"/><circle cx="637.6" cy="468.1" r="1.9"/><circle cx="638.0" cy="470.6" r="2.9"/><circle cx="639.4" cy="473.1" r="2.4"/><circle cx="637.8" cy="479.1" r="2.7"/><circle cx="640.5" cy="480.5" r="2.0"/><circle cx="655.6" cy="414.2" r="1.8"/><circle cx="654.3" cy="419.1" r="1.6"/><circle cx="656.2" cy="420.8" r="2.4"/><circle cx="655.8" cy="422.7" r="2.7"/><circle cx="658.3" cy="426.3" r="2.6"/><circle cx="654.7" cy="427.9" r="3.2"/><circle cx="652.3" cy="429.9" r="1.7"/><circle cx="653.3" cy="433.0" r="1.4"/><circle cx="652.5" cy="438.7" r="2.0"/><circle cx="648.2" cy="439.8" r="2.4"/><circle cx="649.7" cy="443.2" r="1.5"/><circle cx="646.5" cy="445.0" r="2.8"/><circle cx="650.2" cy="449.0" r="1.5"/><circle cx="650.4" cy="451.2" r="2.2"/><circle cx="653.2" cy="452.9" r="2.1"/><circle cx="656.4" cy="451.4" r="3.1"/><circle cx="659.0" cy="450.0" r="2.0"/><circle cx="662.5" cy="451.3" r="2.4"/><circle cx="651.0" cy="456.6" r="3.1"/><circle cx="651.3" cy="460.8" r="2.3"/><circle cx="653.8" cy="461.5" r="1.9"/><circle cx="654.8" cy="462.9" r="1.7"/><circle cx="659.4" cy="467.4" r="1.6"/><circle cx="655.6" cy="472.1" r="2.1"/><circle cx="660.5" cy="470.1" r="3.0"/><circle cx="663.2" cy="470.4" r="1.5"/><circle cx="665.1" cy="470.5" r="2.9"/><circle cx="667.1" cy="470.8" r="2.4"/><circle cx="670.2" cy="471.6" r="1.7"/><circle cx="675.5" cy="471.3" r="1.7"/><circle cx="677.9" cy="471.8" r="2.1"/><circle cx="680.1" cy="468.2" r="2.6"/><circle cx="682.7" cy="468.9" r="1.6"/><circle cx="685.3" cy="469.6" r="2.2"/><circle cx="687.2" cy="466.0" r="2.9"/><circle cx="691.0" cy="469.4" r="3.2"/><circle cx="694.8" cy="464.2" r="2.0"/><circle cx="697.7" cy="464.4" r="3.1"/><circle cx="699.8" cy="463.1" r="3.0"/><circle cx="702.0" cy="462.1" r="1.6"/><circle cx="703.1" cy="459.7" r="3.0"/><circle cx="703.9" cy="457.6" r="3.1"/><circle cx="707.0" cy="456.5" r="3.1"/><circle cx="709.9" cy="455.2" r="2.6"/><circle cx="708.2" cy="451.4" r="2.2"/><circle cx="711.1" cy="450.2" r="1.7"/><circle cx="709.6" cy="447.2" r="1.5"/><circle cx="709.3" cy="444.9" r="2.4"/><circle cx="712.6" cy="443.2" r="2.2"/><circle cx="712.8" cy="440.6" r="1.6"/><circle cx="711.4" cy="437.6" r="2.4"/><circle cx="713.3" cy="435.4" r="2.6"/><circle cx="713.1" cy="432.5" r="3.1"/><circle cx="717.5" cy="431.1" r="3.0"/><circle cx="714.8" cy="427.1" r="1.6"/><circle cx="720.2" cy="423.0" r="2.4"/><circle cx="721.3" cy="421.0" r="1.7"/><circle cx="722.7" cy="419.3" r="2.1"/><circle cx="723.5" cy="417.1" r="1.8"/><circle cx="723.9" cy="414.8" r="3.0"/><circle cx="728.2" cy="413.8" r="1.4"/><circle cx="729.5" cy="408.6" r="2.4"/><circle cx="604.4" cy="422.8" r="2.3"/><circle cx="602.5" cy="425.6" r="2.8"/><circle cx="606.8" cy="427.2" r="2.5"/><circle cx="604.1" cy="430.2" r="1.6"/><circle cx="606.9" cy="432.1" r="1.7"/><circle cx="605.7" cy="437.2" r="1.6"/><circle cx="605.1" cy="439.9" r="3.0"/><circle cx="606.5" cy="442.3" r="2.8"/><circle cx="609.4" cy="444.2" r="2.9"/><circle cx="607.8" cy="447.4" r="1.9"/><circle cx="608.9" cy="452.4" r="1.6"/><circle cx="613.4" cy="456.2" r="2.9"/><circle cx="614.0" cy="458.5" r="2.2"/><circle cx="612.8" cy="461.1" r="3.0"/><circle cx="611.9" cy="463.6" r="2.1"/><circle cx="611.8" cy="466.0" r="2.6"/><circle cx="688.4" cy="315.3" r="2.0"/><circle cx="687.7" cy="318.8" r="1.9"/><circle cx="690.7" cy="320.4" r="2.7"/><circle cx="689.9" cy="323.8" r="2.9"/><circle cx="690.0" cy="325.9" r="1.5"/><circle cx="693.0" cy="327.8" r="1.9"/><circle cx="693.3" cy="332.4" r="3.0"/><circle cx="689.8" cy="335.1" r="2.1"/><circle cx="689.8" cy="337.4" r="2.3"/><circle cx="691.1" cy="341.7" r="1.7"/><circle cx="695.8" cy="342.3" r="1.7"/><circle cx="695.4" cy="348.2" r="1.9"/><circle cx="700.2" cy="347.5" r="2.4"/><circle cx="700.6" cy="353.4" r="3.1"/><circle cx="703.7" cy="358.0" r="2.5"/><circle cx="699.9" cy="362.3" r="2.1"/><circle cx="703.2" cy="363.3" r="2.1"/><circle cx="704.7" cy="365.1" r="3.0"/><circle cx="707.7" cy="365.6" r="3.2"/><circle cx="707.3" cy="369.4" r="2.6"/><circle cx="710.7" cy="370.1" r="2.8"/><circle cx="714.0" cy="374.9" r="1.5"/><circle cx="718.0" cy="373.0" r="3.1"/><circle cx="721.8" cy="375.3" r="2.4"/><circle cx="723.3" cy="377.9" r="2.7"/><circle cx="724.6" cy="380.9" r="2.8"/><circle cx="723.6" cy="383.4" r="2.2"/><circle cx="722.9" cy="388.3" r="2.6"/><circle cx="702.4" cy="318.0" r="2.1"/><circle cx="707.8" cy="319.6" r="3.0"/><circle cx="708.3" cy="323.7" r="2.5"/><circle cx="711.7" cy="323.8" r="1.7"/><circle cx="712.2" cy="326.3" r="2.4"/><circle cx="712.9" cy="329.8" r="1.9"/><circle cx="716.9" cy="330.2" r="2.4"/><circle cx="719.6" cy="328.0" r="1.9"/><circle cx="722.1" cy="325.1" r="2.9"/><circle cx="724.1" cy="327.1" r="3.1"/><circle cx="726.4" cy="326.8" r="1.5"/><circle cx="728.2" cy="329.9" r="2.6"/><circle cx="730.6" cy="330.6" r="1.6"/><circle cx="733.3" cy="330.2" r="3.1"/><circle cx="735.1" cy="330.6" r="2.8"/><circle cx="733.9" cy="332.7" r="2.7"/><circle cx="737.3" cy="334.7" r="2.9"/><circle cx="738.9" cy="337.5" r="3.0"/><circle cx="736.2" cy="339.8" r="2.6"/><circle cx="735.4" cy="345.1" r="1.5"/><circle cx="733.8" cy="346.9" r="2.9"/><circle cx="732.5" cy="348.8" r="2.1"/><circle cx="733.3" cy="351.4" r="2.9"/><circle cx="729.8" cy="353.3" r="1.7"/><circle cx="729.9" cy="355.9" r="2.3"/><circle cx="737.7" cy="359.0" r="2.6"/><circle cx="741.9" cy="355.8" r="2.7"/><circle cx="742.6" cy="352.6" r="1.5"/><circle cx="746.3" cy="353.3" r="1.9"/><circle cx="745.5" cy="349.4" r="1.6"/><circle cx="750.0" cy="350.8" r="2.8"/><circle cx="750.6" cy="348.0" r="1.5"/><circle cx="750.1" cy="344.6" r="1.4"/><circle cx="750.4" cy="341.9" r="1.9"/><circle cx="753.2" cy="340.5" r="2.4"/><circle cx="752.4" cy="337.3" r="2.9"/><circle cx="754.3" cy="335.6" r="2.5"/><circle cx="755.8" cy="333.6" r="2.4"/><circle cx="759.2" cy="332.4" r="1.8"/><circle cx="760.3" cy="330.2" r="2.4"/><circle cx="761.1" cy="328.0" r="1.5"/><circle cx="760.6" cy="325.2" r="1.5"/><circle cx="763.2" cy="324.2" r="2.5"/><circle cx="763.5" cy="321.7" r="2.5"/><circle cx="766.3" cy="321.1" r="3.2"/><circle cx="768.4" cy="319.7" r="2.0"/><circle cx="725.0" cy="390.2" r="1.6"/><circle cx="722.9" cy="392.4" r="2.8"/><circle cx="719.5" cy="388.3" r="3.0"/><circle cx="717.5" cy="391.6" r="2.9"/><circle cx="715.0" cy="394.2" r="2.4"/><circle cx="712.4" cy="393.1" r="1.9"/><circle cx="711.0" cy="388.8" r="2.7"/><circle cx="725.3" cy="398.6" r="2.5"/><circle cx="723.3" cy="400.1" r="2.9"/><circle cx="720.6" cy="398.0" r="1.5"/><circle cx="716.6" cy="401.0" r="2.0"/><circle cx="713.5" cy="396.9" r="2.3"/><circle cx="712.3" cy="401.3" r="1.8"/><circle cx="708.0" cy="403.4" r="2.5"/><circle cx="705.5" cy="403.6" r="2.2"/><circle cx="645.9" cy="429.9" r="2.1"/><circle cx="646.3" cy="432.9" r="1.8"/><circle cx="647.8" cy="435.0" r="2.2"/><circle cx="648.2" cy="437.9" r="2.5"/><circle cx="652.9" cy="438.1" r="3.2"/><circle cx="653.1" cy="440.5" r="2.8"/><circle cx="652.9" cy="443.1" r="2.7"/><circle cx="656.5" cy="443.5" r="3.2"/><circle cx="658.1" cy="445.1" r="1.5"/><circle cx="655.6" cy="450.0" r="1.8"/><circle cx="657.7" cy="452.5" r="2.5"/><circle cx="664.3" cy="449.6" r="1.4"/><circle cx="668.3" cy="451.0" r="3.2"/><circle cx="667.0" cy="455.1" r="2.9"/><circle cx="664.3" cy="456.9" r="1.6"/><circle cx="661.4" cy="458.4" r="3.0"/><circle cx="660.2" cy="460.8" r="2.4"/><circle cx="660.5" cy="464.3" r="2.5"/><circle cx="657.6" cy="465.8" r="1.5"/><circle cx="657.3" cy="469.0" r="1.9"/><circle cx="658.4" cy="473.0" r="2.7"/><circle cx="653.0" cy="473.2" r="2.9"/><circle cx="655.6" cy="477.3" r="2.6"/><circle cx="653.0" cy="479.1" r="1.6"/><circle cx="677.1" cy="299.6" r="2.6"/><circle cx="682.8" cy="301.1" r="3.0"/><circle cx="686.0" cy="301.3" r="1.5"/><circle cx="688.5" cy="302.4" r="2.2"/><circle cx="691.1" cy="306.5" r="2.2"/><circle cx="695.8" cy="306.4" r="1.9"/><circle cx="697.1" cy="308.8" r="1.6"/><circle cx="695.5" cy="312.8" r="2.6"/><circle cx="698.9" cy="316.7" r="3.2"/><circle cx="703.2" cy="317.9" r="1.8"/><circle cx="949.4" cy="94.6" r="2.0"/><circle cx="952.1" cy="93.5" r="1.4"/><circle cx="954.4" cy="92.1" r="1.2"/><circle cx="955.8" cy="89.8" r="1.6"/><circle cx="960.3" cy="87.7" r="1.8"/><circle cx="965.2" cy="84.7" r="1.3"/><circle cx="968.0" cy="90.3" r="1.9"/><circle cx="962.6" cy="95.3" r="1.8"/><circle cx="959.8" cy="96.0" r="1.9"/><circle cx="957.7" cy="98.1" r="1.0"/><circle cx="954.9" cy="99.5" r="1.3"/><circle cx="950.1" cy="95.1" r="1.8"/><circle cx="788.0" cy="172.8" r="1.4"/><circle cx="788.9" cy="169.6" r="1.0"/><circle cx="790.9" cy="167.1" r="1.1"/><circle cx="794.2" cy="166.2" r="1.8"/><circle cx="796.0" cy="163.8" r="1.2"/><circle cx="797.5" cy="161.0" r="1.5"/><circle cx="800.1" cy="159.5" r="1.9"/><circle cx="803.2" cy="158.7" r="1.4"/><circle cx="806.6" cy="158.7" r="1.3"/><circle cx="806.9" cy="165.3" r="1.0"/><circle cx="804.6" cy="167.1" r="1.2"/><circle cx="802.6" cy="170.0" r="1.8"/><circle cx="800.6" cy="173.2" r="1.1"/><circle cx="795.1" cy="174.8" r="1.7"/><circle cx="792.7" cy="176.0" r="1.0"/><circle cx="788.4" cy="171.9" r="1.4"/><circle cx="811.4" cy="204.4" r="1.3"/><circle cx="811.6" cy="207.0" r="1.1"/><circle cx="810.8" cy="209.4" r="1.3"/><circle cx="810.6" cy="211.9" r="1.3"/><circle cx="811.5" cy="214.6" r="1.5"/><circle cx="810.4" cy="217.0" r="1.6"/><circle cx="809.9" cy="222.0" r="2.0"/><circle cx="810.9" cy="224.6" r="1.5"/><circle cx="809.8" cy="227.0" r="1.9"/><circle cx="810.2" cy="229.6" r="1.6"/><circle cx="809.7" cy="232.1" r="1.5"/><circle cx="809.8" cy="234.6" r="1.4"/><circle cx="807.8" cy="237.0" r="1.7"/><circle cx="809.0" cy="239.7" r="1.9"/><circle cx="807.4" cy="242.0" r="2.2"/><circle cx="806.8" cy="247.0" r="1.6"/><circle cx="808.1" cy="249.7" r="2.0"/><circle cx="808.0" cy="252.3" r="1.3"/><circle cx="805.1" cy="257.8" r="1.1"/><circle cx="805.0" cy="261.0" r="1.2"/><circle cx="803.7" cy="263.2" r="1.1"/><circle cx="801.5" cy="267.7" r="1.0"/><circle cx="799.7" cy="269.6" r="1.0"/><circle cx="797.4" cy="271.5" r="1.6"/><circle cx="795.9" cy="274.0" r="1.7"/><circle cx="792.2" cy="274.4" r="2.0"/><circle cx="798.1" cy="262.8" r="1.2"/><circle cx="798.6" cy="259.7" r="2.1"/><circle cx="798.5" cy="257.0" r="1.0"/><circle cx="799.0" cy="254.4" r="1.2"/><circle cx="801.6" cy="249.8" r="1.5"/><circle cx="800.3" cy="246.9" r="2.1"/><circle cx="801.7" cy="244.6" r="1.6"/><circle cx="802.5" cy="238.8" r="1.7"/><circle cx="801.6" cy="235.8" r="1.2"/><circle cx="802.0" cy="230.6" r="2.2"/><circle cx="803.2" cy="228.2" r="1.4"/><circle cx="803.4" cy="224.9" r="1.4"/><circle cx="805.9" cy="222.2" r="1.0"/><circle cx="805.5" cy="219.4" r="1.5"/><circle cx="807.0" cy="217.1" r="1.2"/><circle cx="806.5" cy="214.3" r="2.2"/><circle cx="807.1" cy="211.8" r="1.6"/><circle cx="809.2" cy="209.7" r="1.1"/><circle cx="808.4" cy="206.9" r="1.7"/><circle cx="809.3" cy="204.5" r="2.1"/><circle cx="810.4" cy="202.5" r="2.1"/><circle cx="812.2" cy="202.9" r="1.5"/><circle cx="791.5" cy="274.5" r="1.1"/><circle cx="790.9" cy="277.8" r="1.3"/><circle cx="784.7" cy="285.1" r="2.0"/><circle cx="780.3" cy="290.7" r="1.1"/><circle cx="778.2" cy="293.6" r="1.7"/><circle cx="772.1" cy="305.6" r="2.1"/><circle cx="770.2" cy="308.0" r="1.8"/><circle cx="767.5" cy="310.1" r="1.4"/><circle cx="764.5" cy="311.5" r="1.1"/><circle cx="761.4" cy="316.6" r="1.8"/><circle cx="759.7" cy="322.0" r="1.8"/><circle cx="763.8" cy="319.4" r="2.2"/><circle cx="767.2" cy="315.1" r="2.1"/><circle cx="768.6" cy="312.9" r="2.2"/><circle cx="772.5" cy="309.0" r="1.4"/><circle cx="774.4" cy="307.0" r="1.2"/><circle cx="775.5" cy="304.2" r="1.3"/><circle cx="777.2" cy="302.2" r="1.5"/><circle cx="778.3" cy="300.0" r="1.7"/><circle cx="781.3" cy="295.9" r="1.8"/><circle cx="782.3" cy="293.5" r="1.6"/><circle cx="784.8" cy="291.5" r="1.2"/><circle cx="787.0" cy="289.3" r="1.9"/><circle cx="789.7" cy="283.9" r="1.8"/><circle cx="793.0" cy="279.1" r="1.4"/><circle cx="794.7" cy="276.6" r="1.7"/><circle cx="796.3" cy="269.3" r="1.0"/><circle cx="794.8" cy="270.6" r="1.3"/><circle cx="794.5" cy="273.5" r="1.2"/><circle cx="793.0" cy="275.6" r="1.3"/><circle cx="744.7" cy="335.2" r="2.2"/><circle cx="746.9" cy="333.2" r="2.1"/><circle cx="752.2" cy="332.0" r="1.6"/><circle cx="754.7" cy="332.7" r="1.6"/><circle cx="756.7" cy="332.8" r="1.1"/><circle cx="757.7" cy="330.1" r="1.7"/><circle cx="759.2" cy="327.3" r="2.0"/><circle cx="757.2" cy="331.8" r="1.2"/><circle cx="755.4" cy="336.7" r="1.2"/><circle cx="753.6" cy="338.6" r="1.9"/><circle cx="751.6" cy="341.2" r="2.0"/><circle cx="750.8" cy="344.3" r="1.2"/><circle cx="743.9" cy="354.2" r="1.8"/><circle cx="740.6" cy="356.1" r="1.2"/><circle cx="737.0" cy="358.1" r="1.8"/><circle cx="738.4" cy="354.9" r="1.5"/><circle cx="740.8" cy="353.4" r="1.0"/><circle cx="742.1" cy="348.3" r="1.8"/><circle cx="743.2" cy="345.7" r="2.1"/><circle cx="743.0" cy="342.9" r="1.8"/><circle cx="743.1" cy="340.1" r="1.3"/><circle cx="950.4" cy="62.0" r="1.9"/><circle cx="949.3" cy="65.0" r="1.1"/><circle cx="949.0" cy="68.0" r="1.2"/><circle cx="943.9" cy="63.1" r="1.1"/><circle cx="944.3" cy="60.5" r="1.4"/><circle cx="626.4" cy="291.3" r="1.1"/><circle cx="628.3" cy="293.2" r="1.6"/><circle cx="628.9" cy="295.6" r="1.3"/><circle cx="630.2" cy="297.8" r="1.9"/><circle cx="629.8" cy="302.4" r="2.1"/><circle cx="626.7" cy="306.5" r="1.5"/><circle cx="624.6" cy="308.0" r="1.0"/><circle cx="618.6" cy="312.8" r="1.7"/><circle cx="617.4" cy="315.0" r="1.9"/><circle cx="613.6" cy="318.6" r="1.5"/><circle cx="610.5" cy="318.2" r="1.1"/><circle cx="608.4" cy="319.6" r="1.2"/><circle cx="606.6" cy="322.0" r="1.2"/><circle cx="603.7" cy="321.4" r="1.2"/><circle cx="601.1" cy="322.4" r="1.5"/><circle cx="601.1" cy="325.2" r="1.3"/><circle cx="602.8" cy="329.3" r="1.9"/><circle cx="599.9" cy="336.4" r="1.7"/><circle cx="600.7" cy="339.0" r="1.9"/><circle cx="602.1" cy="343.9" r="2.1"/><circle cx="601.4" cy="346.6" r="1.4"/><circle cx="602.9" cy="348.9" r="1.6"/><circle cx="601.8" cy="353.7" r="1.4"/><circle cx="600.9" cy="356.0" r="1.4"/><circle cx="600.3" cy="358.5" r="2.0"/><circle cx="598.9" cy="363.4" r="1.9"/><circle cx="596.4" cy="365.1" r="2.1"/><circle cx="595.6" cy="367.4" r="2.0"/><circle cx="595.2" cy="370.1" r="1.4"/><circle cx="593.8" cy="372.2" r="1.1"/><circle cx="591.5" cy="373.8" r="1.5"/><circle cx="590.3" cy="376.1" r="1.9"/><circle cx="589.8" cy="378.8" r="2.0"/><circle cx="589.4" cy="389.8" r="1.5"/><circle cx="589.4" cy="384.3" r="1.4"/><circle cx="588.2" cy="379.4" r="2.0"/><circle cx="587.5" cy="373.8" r="1.9"/><circle cx="587.6" cy="371.4" r="1.1"/><circle cx="592.5" cy="367.3" r="1.4"/><circle cx="582.6" cy="361.9" r="1.3"/><circle cx="585.8" cy="359.4" r="1.0"/><circle cx="591.9" cy="357.5" r="1.1"/><circle cx="587.1" cy="355.4" r="1.5"/><circle cx="584.8" cy="349.7" r="2.1"/><circle cx="587.3" cy="350.0" r="1.9"/><circle cx="589.9" cy="349.6" r="1.7"/><circle cx="592.4" cy="348.8" r="2.0"/><circle cx="595.0" cy="348.3" r="1.5"/><circle cx="588.7" cy="345.0" r="1.4"/><circle cx="586.7" cy="342.6" r="1.8"/><circle cx="584.1" cy="341.7" r="1.0"/><circle cx="581.1" cy="341.4" r="1.9"/><circle cx="585.1" cy="338.6" r="1.6"/><circle cx="589.1" cy="337.1" r="1.9"/><circle cx="584.3" cy="333.7" r="2.2"/><circle cx="581.1" cy="333.4" r="1.9"/><circle cx="582.5" cy="327.9" r="1.4"/><circle cx="588.6" cy="328.2" r="1.6"/><circle cx="591.5" cy="327.3" r="2.1"/><circle cx="591.5" cy="324.6" r="1.2"/><circle cx="586.2" cy="321.8" r="2.0"/><circle cx="584.1" cy="320.9" r="1.2"/><circle cx="585.9" cy="320.3" r="2.1"/><circle cx="593.7" cy="320.6" r="1.7"/><circle cx="596.6" cy="319.7" r="2.0"/><circle cx="594.0" cy="318.0" r="1.3"/><circle cx="591.3" cy="316.7" r="1.6"/><circle cx="588.2" cy="315.1" r="1.0"/><circle cx="591.3" cy="313.9" r="1.9"/><circle cx="595.5" cy="312.5" r="1.6"/><circle cx="598.4" cy="313.9" r="2.1"/><circle cx="601.3" cy="314.5" r="1.9"/><circle cx="604.5" cy="310.7" r="2.1"/><circle cx="602.3" cy="309.2" r="1.5"/><circle cx="604.1" cy="308.3" r="2.0"/><circle cx="606.9" cy="308.5" r="1.6"/><circle cx="610.6" cy="310.3" r="1.4"/><circle cx="611.0" cy="308.0" r="1.2"/><circle cx="608.5" cy="305.4" r="1.4"/><circle cx="609.4" cy="302.7" r="1.1"/><circle cx="613.4" cy="301.8" r="1.6"/><circle cx="616.7" cy="302.4" r="1.5"/><circle cx="623.5" cy="303.7" r="1.6"/><circle cx="623.6" cy="301.1" r="1.2"/><circle cx="620.8" cy="300.5" r="1.8"/><circle cx="622.4" cy="296.2" r="1.5"/><circle cx="626.4" cy="294.9" r="1.5"/><circle cx="624.4" cy="291.5" r="1.7"/><circle cx="625.3" cy="290.0" r="1.9"/><circle cx="626.7" cy="291.2" r="2.1"/><circle cx="613.0" cy="330.0" r="1.4"/><circle cx="612.6" cy="332.8" r="1.9"/><circle cx="613.3" cy="338.4" r="2.0"/><circle cx="613.6" cy="343.8" r="1.4"/><circle cx="612.1" cy="348.5" r="1.2"/><circle cx="609.4" cy="349.8" r="2.0"/><circle cx="608.4" cy="352.5" r="1.6"/><circle cx="606.9" cy="354.8" r="2.1"/><circle cx="605.6" cy="357.3" r="2.1"/><circle cx="604.7" cy="359.9" r="1.4"/><circle cx="604.2" cy="362.6" r="1.9"/><circle cx="605.0" cy="365.4" r="1.5"/><circle cx="604.1" cy="368.3" r="1.6"/><circle cx="605.4" cy="371.0" r="2.0"/><circle cx="604.9" cy="373.7" r="1.0"/><circle cx="606.3" cy="376.5" r="2.0"/><circle cx="606.1" cy="379.3" r="1.1"/><circle cx="605.2" cy="382.1" r="1.9"/><circle cx="605.4" cy="390.5" r="1.1"/><circle cx="607.4" cy="395.9" r="1.9"/><circle cx="608.3" cy="401.4" r="2.0"/><circle cx="607.4" cy="407.2" r="1.0"/><circle cx="609.8" cy="409.5" r="1.0"/><circle cx="611.8" cy="414.6" r="1.2"/><circle cx="612.0" cy="417.6" r="1.8"/><circle cx="613.2" cy="423.0" r="1.5"/><circle cx="615.6" cy="425.1" r="1.3"/><circle cx="621.3" cy="434.4" r="1.2"/><circle cx="622.5" cy="437.1" r="1.1"/><circle cx="624.5" cy="439.1" r="1.0"/><circle cx="626.3" cy="441.1" r="1.7"/><circle cx="628.3" cy="443.2" r="1.7"/><circle cx="631.3" cy="443.9" r="2.1"/><circle cx="636.3" cy="450.5" r="1.2"/><circle cx="635.6" cy="453.4" r="1.0"/><circle cx="637.3" cy="461.4" r="2.0"/><circle cx="637.5" cy="464.3" r="1.7"/><circle cx="638.1" cy="469.3" r="2.1"/><circle cx="639.4" cy="474.8" r="1.5"/><circle cx="639.0" cy="477.8" r="2.0"/><circle cx="639.6" cy="474.6" r="1.9"/><circle cx="641.2" cy="471.3" r="1.2"/><circle cx="639.2" cy="466.1" r="2.1"/><circle cx="639.8" cy="462.4" r="1.9"/><circle cx="638.3" cy="459.9" r="1.7"/><circle cx="637.9" cy="453.8" r="2.1"/><circle cx="637.9" cy="450.9" r="1.1"/><circle cx="635.2" cy="450.2" r="2.0"/><circle cx="635.6" cy="446.5" r="1.3"/><circle cx="632.1" cy="441.9" r="1.6"/><circle cx="629.1" cy="438.2" r="1.3"/><circle cx="628.8" cy="435.4" r="2.1"/><circle cx="623.3" cy="434.0" r="2.0"/><circle cx="619.7" cy="427.6" r="1.5"/><circle cx="616.0" cy="424.8" r="1.9"/><circle cx="617.9" cy="422.1" r="1.1"/><circle cx="618.9" cy="418.4" r="1.2"/><circle cx="616.9" cy="418.2" r="1.3"/><circle cx="622.6" cy="415.1" r="1.1"/><circle cx="621.1" cy="410.9" r="1.6"/><circle cx="629.9" cy="409.5" r="1.2"/><circle cx="633.0" cy="408.4" r="1.1"/><circle cx="631.1" cy="406.6" r="1.4"/><circle cx="628.4" cy="405.3" r="1.6"/><circle cx="622.7" cy="404.6" r="1.3"/><circle cx="617.7" cy="405.1" r="1.9"/><circle cx="620.5" cy="403.8" r="2.0"/><circle cx="624.0" cy="402.0" r="2.1"/><circle cx="629.6" cy="403.2" r="1.3"/><circle cx="632.3" cy="403.3" r="2.2"/><circle cx="637.8" cy="402.9" r="1.7"/><circle cx="640.5" cy="401.8" r="1.2"/><circle cx="643.2" cy="402.4" r="1.3"/><circle cx="640.7" cy="401.3" r="1.9"/><circle cx="637.8" cy="401.1" r="2.1"/><circle cx="635.8" cy="398.6" r="2.2"/><circle cx="633.0" cy="398.3" r="2.2"/><circle cx="630.2" cy="397.4" r="1.4"/><circle cx="627.2" cy="397.1" r="1.1"/><circle cx="624.7" cy="395.3" r="1.7"/><circle cx="624.4" cy="394.3" r="2.1"/><circle cx="627.1" cy="394.6" r="2.0"/><circle cx="629.7" cy="394.2" r="1.7"/><circle cx="632.3" cy="395.4" r="1.3"/><circle cx="637.5" cy="393.5" r="1.7"/><circle cx="640.2" cy="394.4" r="1.1"/><circle cx="640.3" cy="392.7" r="2.1"/><circle cx="635.0" cy="390.3" r="1.0"/><circle cx="632.3" cy="390.0" r="2.2"/><circle cx="629.8" cy="388.9" r="1.0"/><circle cx="627.5" cy="387.4" r="1.7"/><circle cx="627.3" cy="386.5" r="1.2"/><circle cx="632.7" cy="387.7" r="1.3"/><circle cx="637.9" cy="386.1" r="2.2"/><circle cx="641.0" cy="386.3" r="1.1"/><circle cx="633.3" cy="381.5" r="1.3"/><circle cx="630.6" cy="381.7" r="1.8"/><circle cx="620.6" cy="378.8" r="1.2"/><circle cx="615.2" cy="377.9" r="2.1"/><circle cx="618.0" cy="376.5" r="1.2"/><circle cx="620.9" cy="376.6" r="2.0"/><circle cx="623.6" cy="376.5" r="1.7"/><circle cx="626.3" cy="376.5" r="1.7"/><circle cx="629.0" cy="375.9" r="1.5"/><circle cx="631.7" cy="377.4" r="1.3"/><circle cx="631.6" cy="376.6" r="1.6"/><circle cx="629.3" cy="375.1" r="1.9"/><circle cx="627.1" cy="373.4" r="2.0"/><circle cx="624.5" cy="372.6" r="2.1"/><circle cx="621.3" cy="371.6" r="1.1"/><circle cx="618.5" cy="369.8" r="1.1"/><circle cx="615.6" cy="367.9" r="1.4"/><circle cx="618.3" cy="368.9" r="1.3"/><circle cx="621.0" cy="367.7" r="1.4"/><circle cx="629.0" cy="367.8" r="1.1"/><circle cx="632.3" cy="368.5" r="1.8"/><circle cx="628.6" cy="364.8" r="1.1"/><circle cx="626.0" cy="364.1" r="1.1"/><circle cx="618.7" cy="360.0" r="1.8"/><circle cx="622.0" cy="360.4" r="1.1"/><circle cx="627.4" cy="359.2" r="1.5"/><circle cx="629.4" cy="359.2" r="1.8"/><circle cx="626.4" cy="356.3" r="1.8"/><circle cx="623.9" cy="354.9" r="1.8"/><circle cx="621.1" cy="354.2" r="1.1"/><circle cx="619.1" cy="351.5" r="2.1"/><circle cx="616.0" cy="351.3" r="1.6"/><circle cx="618.8" cy="350.7" r="1.6"/><circle cx="624.0" cy="349.8" r="2.0"/><circle cx="626.2" cy="347.7" r="1.6"/><circle cx="628.9" cy="348.3" r="1.8"/><circle cx="632.2" cy="347.6" r="1.1"/><circle cx="623.9" cy="343.2" r="1.1"/><circle cx="621.8" cy="341.4" r="1.4"/><circle cx="623.9" cy="340.6" r="1.9"/><circle cx="626.8" cy="341.3" r="1.5"/><circle cx="629.0" cy="339.1" r="1.9"/><circle cx="633.7" cy="338.7" r="2.0"/><circle cx="630.4" cy="335.1" r="1.8"/><circle cx="627.7" cy="334.7" r="1.4"/><circle cx="631.2" cy="332.2" r="1.9"/><circle cx="637.3" cy="330.1" r="1.8"/><circle cx="631.2" cy="330.6" r="1.6"/><circle cx="628.6" cy="330.3" r="1.4"/><circle cx="626.0" cy="329.8" r="1.3"/><circle cx="623.3" cy="330.0" r="1.6"/><circle cx="620.7" cy="329.7" r="1.2"/><circle cx="618.1" cy="330.4" r="1.9"/><circle cx="628.1" cy="289.8" r="2.1"/><circle cx="629.8" cy="286.8" r="1.3"/><circle cx="632.6" cy="286.6" r="2.0"/><circle cx="635.1" cy="285.9" r="1.3"/><circle cx="637.4" cy="284.5" r="1.4"/><circle cx="640.1" cy="284.5" r="1.9"/><circle cx="642.5" cy="283.3" r="1.9"/><circle cx="645.0" cy="284.1" r="1.8"/><circle cx="647.5" cy="283.2" r="1.1"/><circle cx="650.6" cy="282.8" r="2.2"/><circle cx="650.7" cy="286.4" r="2.2"/><circle cx="646.1" cy="288.1" r="1.1"/><circle cx="645.1" cy="289.8" r="1.3"/><circle cx="647.1" cy="291.5" r="2.1"/><circle cx="648.0" cy="297.9" r="1.4"/><circle cx="653.2" cy="299.9" r="1.3"/><circle cx="646.4" cy="300.3" r="2.1"/><circle cx="643.3" cy="302.0" r="1.9"/><circle cx="640.6" cy="302.3" r="2.1"/><circle cx="638.7" cy="305.8" r="1.7"/><circle cx="636.6" cy="307.7" r="1.5"/><circle cx="634.7" cy="307.7" r="1.4"/><circle cx="639.6" cy="309.7" r="1.7"/><circle cx="642.1" cy="308.1" r="1.8"/><circle cx="644.8" cy="308.4" r="1.2"/><circle cx="652.4" cy="310.2" r="1.7"/><circle cx="655.8" cy="310.0" r="1.4"/><circle cx="654.1" cy="313.3" r="1.6"/><circle cx="651.1" cy="314.3" r="1.4"/><circle cx="648.0" cy="314.3" r="2.1"/><circle cx="644.7" cy="313.3" r="1.3"/><circle cx="639.6" cy="314.6" r="1.5"/><circle cx="637.0" cy="314.4" r="2.0"/><circle cx="634.2" cy="314.4" r="1.6"/><circle cx="629.8" cy="319.5" r="1.3"/><circle cx="626.9" cy="320.4" r="2.0"/><circle cx="625.0" cy="322.5" r="2.0"/><circle cx="622.9" cy="324.1" r="1.9"/><circle cx="619.9" cy="326.4" r="1.1"/><circle cx="619.5" cy="330.3" r="1.0"/><circle cx="617.4" cy="334.7" r="1.4"/><circle cx="615.0" cy="332.5" r="1.3"/><circle cx="613.9" cy="327.2" r="1.2"/><circle cx="614.2" cy="324.5" r="1.4"/><circle cx="617.6" cy="319.9" r="1.4"/><circle cx="618.7" cy="317.1" r="1.7"/><circle cx="620.1" cy="313.9" r="2.1"/><circle cx="622.5" cy="311.5" r="1.8"/><circle cx="625.0" cy="309.7" r="1.4"/><circle cx="629.6" cy="305.9" r="2.1"/><circle cx="631.7" cy="303.9" r="1.2"/><circle cx="634.3" cy="302.1" r="1.5"/><circle cx="632.5" cy="299.2" r="1.9"/><circle cx="632.5" cy="296.5" r="1.4"/><circle cx="629.1" cy="292.5" r="2.2"/><circle cx="628.8" cy="289.8" r="1.6"/><circle cx="632.9" cy="441.4" r="1.2"/><circle cx="635.6" cy="441.9" r="1.3"/><circle cx="638.3" cy="440.3" r="1.7"/><circle cx="640.0" cy="443.5" r="1.4"/><circle cx="642.7" cy="445.7" r="1.6"/><circle cx="643.1" cy="448.9" r="1.4"/><circle cx="642.6" cy="452.0" r="1.7"/><circle cx="642.5" cy="458.7" r="1.5"/><circle cx="638.5" cy="461.5" r="1.4"/><circle cx="636.5" cy="461.2" r="2.0"/><circle cx="634.3" cy="460.0" r="1.7"/><circle cx="634.8" cy="457.0" r="2.2"/><circle cx="633.7" cy="452.4" r="1.2"/><circle cx="632.0" cy="447.2" r="2.1"/><circle cx="633.7" cy="444.6" r="1.8"/><circle cx="633.7" cy="442.0" r="1.2"/><circle cx="639.8" cy="465.6" r="1.4"/><circle cx="643.4" cy="465.3" r="1.7"/><circle cx="645.1" cy="468.7" r="1.4"/><circle cx="645.2" cy="472.1" r="2.1"/><circle cx="641.9" cy="478.9" r="1.3"/><circle cx="636.2" cy="470.5" r="2.1"/><circle cx="637.2" cy="467.0" r="2.0"/><circle cx="645.5" cy="430.2" r="1.6"/><circle cx="649.2" cy="434.1" r="2.1"/><circle cx="649.7" cy="436.9" r="2.0"/><circle cx="651.3" cy="439.0" r="1.5"/><circle cx="653.6" cy="441.5" r="2.1"/><circle cx="654.6" cy="444.7" r="1.6"/><circle cx="656.4" cy="447.9" r="1.9"/><circle cx="662.8" cy="450.7" r="1.4"/><circle cx="665.5" cy="454.5" r="1.6"/><circle cx="663.6" cy="456.6" r="1.6"/><circle cx="662.9" cy="459.1" r="1.2"/><circle cx="659.9" cy="463.9" r="1.1"/><circle cx="658.8" cy="466.6" r="1.6"/><circle cx="657.4" cy="469.1" r="1.3"/><circle cx="656.9" cy="472.1" r="2.0"/><circle cx="654.0" cy="473.7" r="1.7"/><circle cx="653.4" cy="476.4" r="1.2"/><circle cx="651.3" cy="480.7" r="1.9"/><circle cx="648.4" cy="480.6" r="1.5"/><circle cx="649.1" cy="478.1" r="1.2"/><circle cx="648.2" cy="475.0" r="1.6"/><circle cx="647.9" cy="472.0" r="2.0"/><circle cx="648.1" cy="469.2" r="1.2"/><circle cx="648.6" cy="466.6" r="1.6"/><circle cx="649.4" cy="464.0" r="1.6"/><circle cx="651.9" cy="457.1" r="1.2"/><circle cx="651.5" cy="453.5" r="1.7"/><circle cx="650.4" cy="450.0" r="1.9"/><circle cx="650.9" cy="446.9" r="1.3"/><circle cx="650.3" cy="443.9" r="1.4"/><circle cx="647.8" cy="441.9" r="1.8"/><circle cx="646.5" cy="439.4" r="1.7"/><circle cx="645.5" cy="433.2" r="2.0"/><circle cx="645.3" cy="429.9" r="1.1"/><circle cx="791.6" cy="273.5" r="1.4"/><circle cx="793.0" cy="271.9" r="1.4"/><circle cx="795.3" cy="270.6" r="1.7"/><circle cx="794.5" cy="268.1" r="0.9"/><circle cx="794.9" cy="265.8" r="1.7"/><circle cx="797.0" cy="259.2" r="1.7"/><circle cx="800.4" cy="257.4" r="1.3"/><circle cx="798.3" cy="254.3" r="1.9"/><circle cx="800.1" cy="252.1" r="1.4"/><circle cx="800.4" cy="245.9" r="1.3"/><circle cx="802.7" cy="242.1" r="1.5"/><circle cx="802.0" cy="240.0" r="1.2"/><circle cx="802.5" cy="237.7" r="1.0"/><circle cx="802.1" cy="235.9" r="2.0"/><circle cx="802.1" cy="233.4" r="1.6"/><circle cx="802.3" cy="227.9" r="1.2"/><circle cx="804.7" cy="226.4" r="1.1"/><circle cx="805.1" cy="224.2" r="1.6"/><circle cx="805.1" cy="222.0" r="1.3"/><circle cx="805.4" cy="219.4" r="1.0"/><circle cx="805.9" cy="216.8" r="1.8"/><circle cx="807.3" cy="214.5" r="1.8"/><circle cx="808.6" cy="212.2" r="1.0"/><circle cx="809.8" cy="207.1" r="1.3"/><circle cx="809.2" cy="204.4" r="1.5"/><circle cx="808.7" cy="201.8" r="1.5"/><circle cx="791.0" cy="274.2" r="1.3"/><circle cx="791.7" cy="277.4" r="2.0"/><circle cx="789.3" cy="278.5" r="1.8"/><circle cx="787.8" cy="280.3" r="1.2"/><circle cx="788.3" cy="283.5" r="1.4"/><circle cx="784.0" cy="286.1" r="1.7"/><circle cx="783.1" cy="288.3" r="1.5"/><circle cx="779.8" cy="288.9" r="1.9"/><circle cx="779.6" cy="291.6" r="1.4"/><circle cx="778.7" cy="293.9" r="1.9"/><circle cx="777.0" cy="295.8" r="1.7"/><circle cx="774.8" cy="297.3" r="1.0"/><circle cx="774.1" cy="299.7" r="0.9"/><circle cx="774.4" cy="302.6" r="1.4"/><circle cx="773.1" cy="304.5" r="1.1"/><circle cx="772.0" cy="306.5" r="1.1"/><circle cx="770.6" cy="308.4" r="1.8"/><circle cx="768.3" cy="309.8" r="1.2"/><circle cx="763.6" cy="311.7" r="1.0"/><circle cx="761.3" cy="315.8" r="1.8"/><circle cx="762.3" cy="318.4" r="1.7"/><circle cx="759.6" cy="319.8" r="1.2"/><circle cx="760.7" cy="322.3" r="1.4"/></g>
<path d="M606,389 L607.9,388.2 L610,388.5 L612,387.6 L614.2,388.2 L615.9,389.6 L618.4,389.2 L619.3,391.9 L621.3,392.7 L623.6,394 L622.2,396.5 L620,398 L618,398.3 L615.9,398.2 L613.9,399.3 L611.4,397.7 L609.4,395.2 L606.8,395.4 L606,393.6 L606.3,391.7 L606,389 Z M626.9,291 L627,293.5 L628.1,295.4 L630.5,296.8 L629.8,299.2 L630.8,300.9 L629.8,303.1 L626.9,303.6 L625.8,305.8 L623.8,307.3 L622.4,309.4 L620.8,312.1 L617.5,312.6 L617.1,315.2 L615.5,316.5 L613.6,317.4 L611.6,319.4 L609,320 L606.4,320.7 L604.2,322.8 L601,322.7 L600.9,326 L601.4,328 L602.4,330.1 L601.7,331.9 L602.5,334.3 L601.6,336.2 L599.4,337.9 L601,340 L601.3,342 L601.8,343.9 L601.5,346.1 L601.7,348.4 L602.3,350.7 L603.2,353 L601.8,354.9 L600.9,357 L600.5,359.3 L597.9,360.6 L597.1,362.6 L596.7,364.8 L595.5,366.6 L595.8,369 L593.9,370.3 L593.8,372.8 L591.7,374 L590.6,375.8 L589.8,377.9 L589.8,380 L589.7,382.2 L591,384.5 L589.9,386.8 L590.6,389 L591.4,391.2 L591.7,393.4 L591.3,395.9 L591.7,398.2 L592.5,400.3 L593.6,402.1 L595.4,403.7 L596.1,405.7 L596.1,408 L597.3,410.1 L597.5,412.4 L598.4,414.6 L598.7,416.7 L599,419.3 L601.3,420.6 L601.7,423.4 L604,424.8 L603.9,427.5 L606,429.3 L607,431.6 L607.7,434 L608.1,436.2 L606.8,438 L606.5,440.1 L606.9,442.2 L604.6,443.8 L605.3,446 L607,447.8 L606.1,450.9 L608.5,452.5 L609.5,454.8 L610.4,456.8 L610.5,458.9 L609.5,461.1 L610.2,463 L610.7,465 L611.5,466.9 L612,469.1 L611,471.6 L612.8,473.4 L612,475.9 L612.7,478 L614.5,479.4 L616.1,480.8 L618.2,478.9 L620.2,480.5 L622.3,480.7 L624.4,480.4 L626.5,480.1 L628.5,480.7 L630.6,479.2 L632.7,480.1 L634.8,479.5 L636.8,479.8 L638.9,479.3 L641.4,480.2 L640.1,477.9 L639.6,475.9 L639.3,474 L639.2,472 L639.9,470 L639.7,468 L639.1,466 L637.2,463.7 L636.9,460.7 L635.7,458.8 L635.1,456.5 L635.6,454.2 L636.4,451.9 L636.2,449.7 L635,447.9 L634.3,445.8 L632.5,443.9 L630.3,442.8 L627.9,442.1 L626.3,440.5 L625.2,438.4 L622.9,437.5 L621,436.2 L620.2,433.8 L619.6,431.9 L617.5,430.7 L617.4,428.4 L616.8,426.4 L614.3,425.3 L613.5,423.3 L613.5,421 L612.4,419.1 L612.9,416.6 L612.1,414.3 L610.1,412.5 L609.9,410 L608.7,407.9 L607.4,406.1 L608.9,403.9 L606.9,402.1 L606.4,400.1 L606.9,398 L605.7,395.9 L606.5,393.5 L606.1,391.3 L607,388.9 L605.7,386.8 L606.6,384.5 L606.3,382.2 L605.8,380 L604.9,377.8 L604.9,375.6 L605.2,373.4 L604.9,371.2 L605.3,369 L604.8,367 L604.3,365 L604.7,363 L605.4,361.2 L604.5,358.8 L605.5,356.9 L605.6,354.6 L606.7,352.5 L608.5,350.6 L610.8,349.4 L613.2,348.3 L614.8,346.1 L615,343.8 L614.4,341.9 L613.5,340 L613.1,338 L611.8,336 L612.6,334 L612.4,332 L613.2,330 L612.1,326.8 L614.3,324.5 L615.3,321.9 L617,319.5 L618.3,316.9 L619.3,314.7 L621.9,314 L623.5,312.5 L624.6,310.8 L625.4,308.7 L627.6,308.2 L629.7,307.1 L631.5,305.8 L632.8,303.9 L633,301.9 L633.8,298.7 L632.4,297 L630.8,295.6 L631.1,293.2 L630,291.5 L628.8,289.2 L626.9,291 Z M641.5,441 L642.3,438.9 L644,437.7 L647.2,439.3 L648.6,441.5 L649,444.2 L649.6,446 L650.5,447.9 L650.4,450 L649.6,452.3 L650.4,454.7 L649.6,456.9 L649.9,459.3 L648.4,461.4 L650,464.2 L648.8,466 L648.4,468 L647.8,469.9 L647,471.9 L647.6,474.2 L647.8,476.5 L647.3,478.7 L647.5,480.9 L645.5,480.7 L646.2,478.8 L644.1,476.5 L644.8,474.2 L646,472 L644.3,470 L646,468 L644.5,465.9 L645.9,464 L646.3,462 L645,460 L645.3,458 L645,456 L645.9,454 L645.4,452 L645.4,450 L644.6,448.1 L644.2,445.9 L643.9,443.6 L641.5,441 Z" fill="#fff"/>
</g></svg>
<div id="topline"></div>
<div id="bot"></div>
<div id="panel">
</div>
<div id="title">Intensity</div>
<div class="sw" style="top:299.0px;background:#ffffff"></div>
<div class="lt" style="top:297.2px"><b>None</b></div>
<div class="sw" style="top:338.6px;background:#ffff00"></div>
<div class="lt" style="top:336.8px"><b>D0</b> <span>(Abnormally Dry)</span></div>
<div class="sw" style="top:378.1px;background:#fcd37f"></div>
<div class="lt" style="top:376.3px"><b>D1</b> <span>(Moderate Drought)</span></div>
<div class="sw" style="top:417.6px;background:#ffaa00"></div>
<div class="lt" style="top:415.8px"><b>D2</b> <span>(Severe Drought)</span></div>
<div class="sw" style="top:457.2px;background:#e60000"></div>
<div class="lt" style="top:455.4px"><b>D3</b> <span>(Extreme Drought)</span></div>
<div class="sw" style="top:496.8px;background:#730000"></div>
<div class="lt" style="top:494.9px"><b>D4</b> <span>(Exceptional Drought)</span></div>
<div class="sw" style="top:536.3px;background:#9b9b9b"></div>
<div class="lt" style="top:534.5px"><b>No Data</b></div>
</body></html>
